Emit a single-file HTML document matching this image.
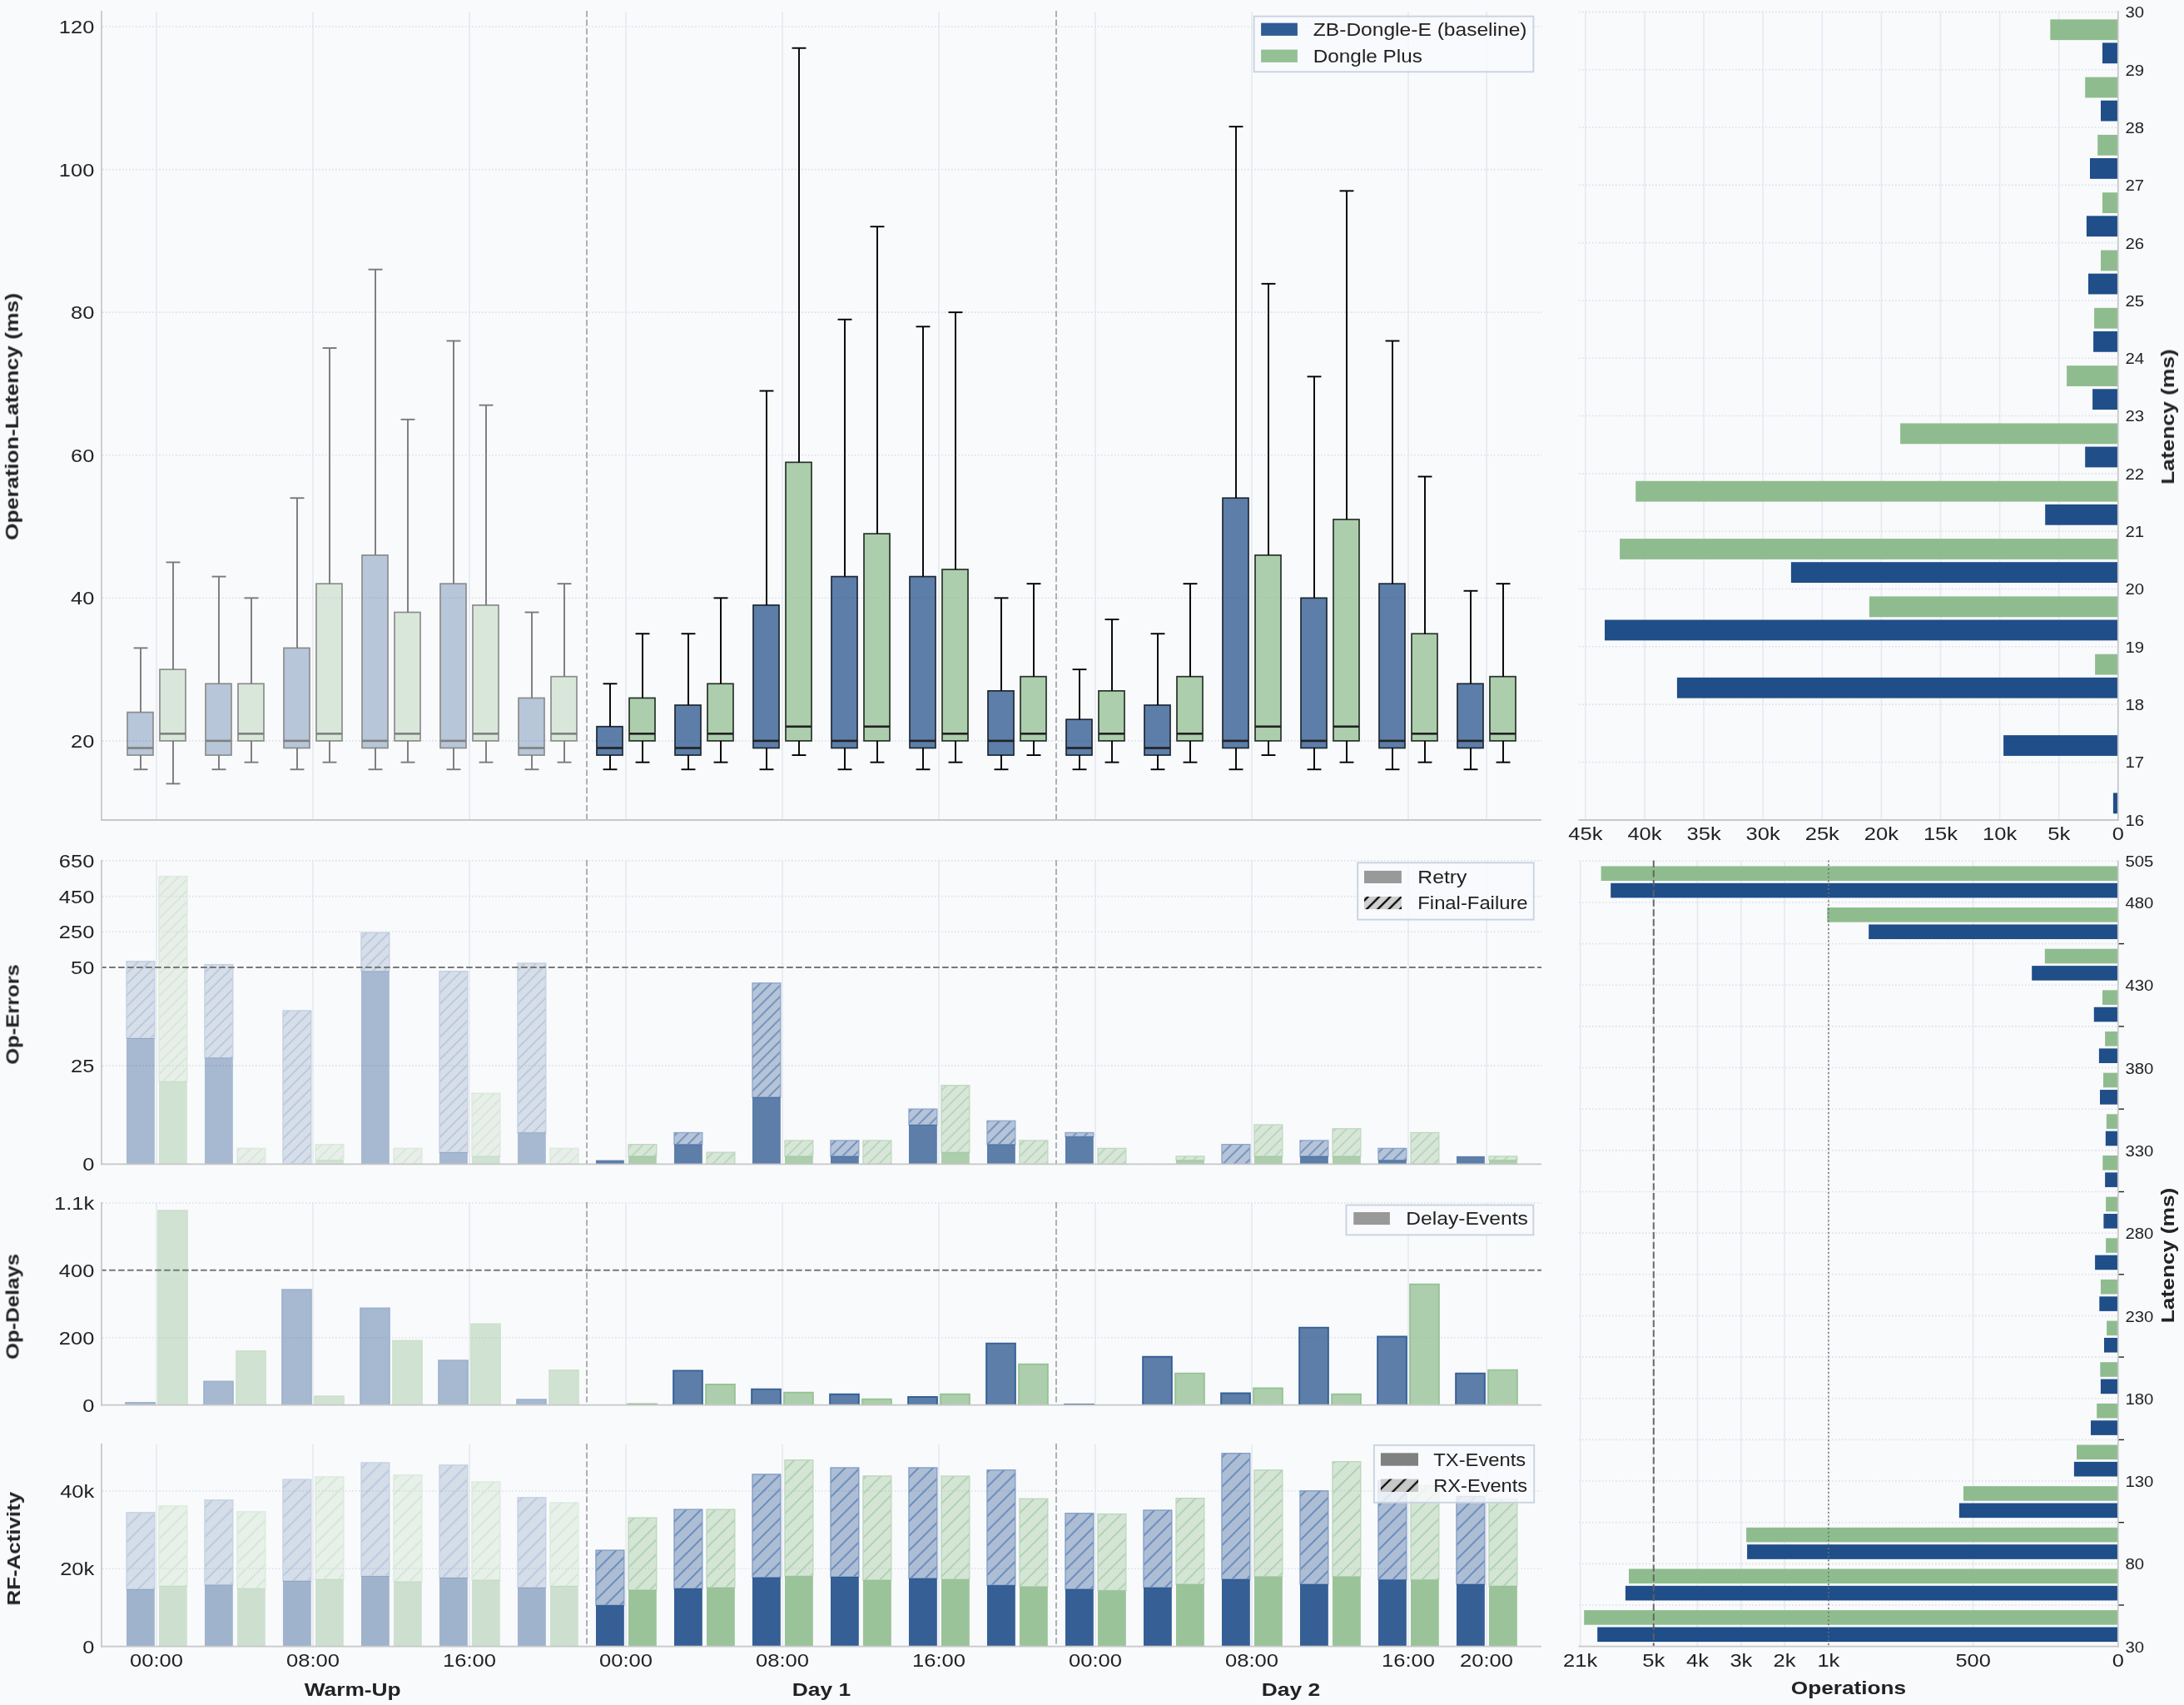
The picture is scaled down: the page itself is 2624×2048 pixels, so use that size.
<!DOCTYPE html>
<html><head><meta charset="utf-8"><title>Dongle latency dashboard</title><style>html,body{margin:0;padding:0;background:#f9fafc;}svg{display:block;font-family:"Liberation Sans",sans-serif;} text{will-change:transform;}</style></head><body>
<svg width="2624" height="2048" viewBox="0 0 2624 2048" font-family="Liberation Sans, sans-serif"><defs><pattern id="h_ffl_b" patternUnits="userSpaceOnUse" x="1.5" y="0" width="13.33" height="13.33"><path d="M0,13.33 L13.33,0 M-3,3 L3,-3 M10.33,16.33 L16.33,10.33" stroke="#6a8cbb" stroke-width="1.8" stroke-linecap="square"/></pattern><pattern id="h_ffl_g" patternUnits="userSpaceOnUse" x="1.5" y="0" width="13.33" height="13.33"><path d="M0,13.33 L13.33,0 M-3,3 L3,-3 M10.33,16.33 L16.33,10.33" stroke="#b5d4b5" stroke-width="1.8" stroke-linecap="square"/></pattern><pattern id="h_ffl_b_w" patternUnits="userSpaceOnUse" x="1.5" y="0" width="13.33" height="13.33"><path d="M0,13.33 L13.33,0 M-3,3 L3,-3 M10.33,16.33 L16.33,10.33" stroke="#b7c6da" stroke-width="1.8" stroke-linecap="square"/></pattern><pattern id="h_ffl_g_w" patternUnits="userSpaceOnUse" x="1.5" y="0" width="13.33" height="13.33"><path d="M0,13.33 L13.33,0 M-3,3 L3,-3 M10.33,16.33 L16.33,10.33" stroke="#d5e6d4" stroke-width="1.8" stroke-linecap="square"/></pattern><pattern id="h_rxl_b" patternUnits="userSpaceOnUse" x="15.5" y="0" width="17.6" height="17.6"><path d="M0,17.6 L17.6,0 M-3,3 L3,-3 M14.6,20.6 L20.6,14.6" stroke="#6286ba" stroke-width="1.8" stroke-linecap="square"/></pattern><pattern id="h_rxl_g" patternUnits="userSpaceOnUse" x="15.5" y="0" width="17.6" height="17.6"><path d="M0,17.6 L17.6,0 M-3,3 L3,-3 M14.6,20.6 L20.6,14.6" stroke="#acd0ac" stroke-width="1.8" stroke-linecap="square"/></pattern><pattern id="h_rxl_b_w" patternUnits="userSpaceOnUse" x="15.5" y="0" width="17.6" height="17.6"><path d="M0,17.6 L17.6,0 M-3,3 L3,-3 M14.6,20.6 L20.6,14.6" stroke="#b6c7de" stroke-width="1.8" stroke-linecap="square"/></pattern><pattern id="h_rxl_g_w" patternUnits="userSpaceOnUse" x="15.5" y="0" width="17.6" height="17.6"><path d="M0,17.6 L17.6,0 M-3,3 L3,-3 M14.6,20.6 L20.6,14.6" stroke="#d3e6d3" stroke-width="1.8" stroke-linecap="square"/></pattern><pattern id="h_leg" patternUnits="userSpaceOnUse" x="1.5" y="0" width="13.33" height="13.33"><path d="M0,13.33 L13.33,0 M-3,3 L3,-3 M10.33,16.33 L16.33,10.33" stroke="#000000" stroke-width="2.2" stroke-linecap="square"/></pattern><pattern id="h_leg2" patternUnits="userSpaceOnUse" x="15.5" y="0" width="17.6" height="17.6"><path d="M0,17.6 L17.6,0 M-3,3 L3,-3 M14.6,20.6 L20.6,14.6" stroke="#000000" stroke-width="2.2" stroke-linecap="square"/></pattern></defs><rect x="0" y="0" width="2624" height="2048" fill="#f9fafc"/>
<line x1="188" y1="14" x2="188" y2="985" stroke="#e6e9ef" stroke-width="1.6" stroke-linecap="butt"/>
<line x1="376" y1="14" x2="376" y2="985" stroke="#e6e9ef" stroke-width="1.6" stroke-linecap="butt"/>
<line x1="564" y1="14" x2="564" y2="985" stroke="#e6e9ef" stroke-width="1.6" stroke-linecap="butt"/>
<line x1="752" y1="14" x2="752" y2="985" stroke="#e6e9ef" stroke-width="1.6" stroke-linecap="butt"/>
<line x1="940" y1="14" x2="940" y2="985" stroke="#e6e9ef" stroke-width="1.6" stroke-linecap="butt"/>
<line x1="1128" y1="14" x2="1128" y2="985" stroke="#e6e9ef" stroke-width="1.6" stroke-linecap="butt"/>
<line x1="1316" y1="14" x2="1316" y2="985" stroke="#e6e9ef" stroke-width="1.6" stroke-linecap="butt"/>
<line x1="1504" y1="14" x2="1504" y2="985" stroke="#e6e9ef" stroke-width="1.6" stroke-linecap="butt"/>
<line x1="1692" y1="14" x2="1692" y2="985" stroke="#e6e9ef" stroke-width="1.6" stroke-linecap="butt"/>
<line x1="1786" y1="14" x2="1786" y2="985" stroke="#e6e9ef" stroke-width="1.6" stroke-linecap="butt"/>
<line x1="123" y1="889.9" x2="1852" y2="889.9" stroke="#dce0e9" stroke-width="1.6" stroke-dasharray="1.6 2.4" stroke-linecap="butt"/>
<line x1="123" y1="718.32" x2="1852" y2="718.32" stroke="#dce0e9" stroke-width="1.6" stroke-dasharray="1.6 2.4" stroke-linecap="butt"/>
<line x1="123" y1="546.74" x2="1852" y2="546.74" stroke="#dce0e9" stroke-width="1.6" stroke-dasharray="1.6 2.4" stroke-linecap="butt"/>
<line x1="123" y1="375.16" x2="1852" y2="375.16" stroke="#dce0e9" stroke-width="1.6" stroke-dasharray="1.6 2.4" stroke-linecap="butt"/>
<line x1="123" y1="203.58" x2="1852" y2="203.58" stroke="#dce0e9" stroke-width="1.6" stroke-dasharray="1.6 2.4" stroke-linecap="butt"/>
<line x1="123" y1="32" x2="1852" y2="32" stroke="#dce0e9" stroke-width="1.6" stroke-dasharray="1.6 2.4" stroke-linecap="butt"/>
<rect x="153" y="855.58" width="31" height="51.47" fill="#1f4e89" fill-opacity="0.3"/>
<rect x="153" y="855.58" width="31" height="51.47" fill="none" stroke="#8c8c8c" stroke-width="1.7"/>
<rect x="192" y="804.11" width="31" height="85.79" fill="#8fbc8f" fill-opacity="0.3"/>
<rect x="192" y="804.11" width="31" height="85.79" fill="none" stroke="#8c8c8c" stroke-width="1.7"/>
<rect x="247" y="821.27" width="31" height="85.79" fill="#1f4e89" fill-opacity="0.3"/>
<rect x="247" y="821.27" width="31" height="85.79" fill="none" stroke="#8c8c8c" stroke-width="1.7"/>
<rect x="286" y="821.27" width="31" height="68.63" fill="#8fbc8f" fill-opacity="0.3"/>
<rect x="286" y="821.27" width="31" height="68.63" fill="none" stroke="#8c8c8c" stroke-width="1.7"/>
<rect x="341" y="778.37" width="31" height="120.11" fill="#1f4e89" fill-opacity="0.3"/>
<rect x="341" y="778.37" width="31" height="120.11" fill="none" stroke="#8c8c8c" stroke-width="1.7"/>
<rect x="380" y="701.16" width="31" height="188.74" fill="#8fbc8f" fill-opacity="0.3"/>
<rect x="380" y="701.16" width="31" height="188.74" fill="none" stroke="#8c8c8c" stroke-width="1.7"/>
<rect x="435" y="666.85" width="31" height="231.63" fill="#1f4e89" fill-opacity="0.3"/>
<rect x="435" y="666.85" width="31" height="231.63" fill="none" stroke="#8c8c8c" stroke-width="1.7"/>
<rect x="474" y="735.48" width="31" height="154.42" fill="#8fbc8f" fill-opacity="0.3"/>
<rect x="474" y="735.48" width="31" height="154.42" fill="none" stroke="#8c8c8c" stroke-width="1.7"/>
<rect x="529" y="701.16" width="31" height="197.32" fill="#1f4e89" fill-opacity="0.3"/>
<rect x="529" y="701.16" width="31" height="197.32" fill="none" stroke="#8c8c8c" stroke-width="1.7"/>
<rect x="568" y="726.9" width="31" height="163" fill="#8fbc8f" fill-opacity="0.3"/>
<rect x="568" y="726.9" width="31" height="163" fill="none" stroke="#8c8c8c" stroke-width="1.7"/>
<rect x="623" y="838.43" width="31" height="68.63" fill="#1f4e89" fill-opacity="0.3"/>
<rect x="623" y="838.43" width="31" height="68.63" fill="none" stroke="#8c8c8c" stroke-width="1.7"/>
<rect x="662" y="812.69" width="31" height="77.21" fill="#8fbc8f" fill-opacity="0.3"/>
<rect x="662" y="812.69" width="31" height="77.21" fill="none" stroke="#8c8c8c" stroke-width="1.7"/>
<rect x="717" y="872.74" width="31" height="34.32" fill="#1f4e89" fill-opacity="0.72"/>
<rect x="717" y="872.74" width="31" height="34.32" fill="none" stroke="#1f2835" stroke-width="1.7"/>
<rect x="756" y="838.43" width="31" height="51.47" fill="#8fbc8f" fill-opacity="0.72"/>
<rect x="756" y="838.43" width="31" height="51.47" fill="none" stroke="#27332a" stroke-width="1.7"/>
<rect x="811" y="847" width="31" height="60.05" fill="#1f4e89" fill-opacity="0.72"/>
<rect x="811" y="847" width="31" height="60.05" fill="none" stroke="#1f2835" stroke-width="1.7"/>
<rect x="850" y="821.27" width="31" height="68.63" fill="#8fbc8f" fill-opacity="0.72"/>
<rect x="850" y="821.27" width="31" height="68.63" fill="none" stroke="#27332a" stroke-width="1.7"/>
<rect x="905" y="726.9" width="31" height="171.58" fill="#1f4e89" fill-opacity="0.72"/>
<rect x="905" y="726.9" width="31" height="171.58" fill="none" stroke="#1f2835" stroke-width="1.7"/>
<rect x="944" y="555.32" width="31" height="334.58" fill="#8fbc8f" fill-opacity="0.72"/>
<rect x="944" y="555.32" width="31" height="334.58" fill="none" stroke="#27332a" stroke-width="1.7"/>
<rect x="999" y="692.58" width="31" height="205.9" fill="#1f4e89" fill-opacity="0.72"/>
<rect x="999" y="692.58" width="31" height="205.9" fill="none" stroke="#1f2835" stroke-width="1.7"/>
<rect x="1038" y="641.11" width="31" height="248.79" fill="#8fbc8f" fill-opacity="0.72"/>
<rect x="1038" y="641.11" width="31" height="248.79" fill="none" stroke="#27332a" stroke-width="1.7"/>
<rect x="1093" y="692.58" width="31" height="205.9" fill="#1f4e89" fill-opacity="0.72"/>
<rect x="1093" y="692.58" width="31" height="205.9" fill="none" stroke="#1f2835" stroke-width="1.7"/>
<rect x="1132" y="684" width="31" height="205.9" fill="#8fbc8f" fill-opacity="0.72"/>
<rect x="1132" y="684" width="31" height="205.9" fill="none" stroke="#27332a" stroke-width="1.7"/>
<rect x="1187" y="829.85" width="31" height="77.21" fill="#1f4e89" fill-opacity="0.72"/>
<rect x="1187" y="829.85" width="31" height="77.21" fill="none" stroke="#1f2835" stroke-width="1.7"/>
<rect x="1226" y="812.69" width="31" height="77.21" fill="#8fbc8f" fill-opacity="0.72"/>
<rect x="1226" y="812.69" width="31" height="77.21" fill="none" stroke="#27332a" stroke-width="1.7"/>
<rect x="1281" y="864.16" width="31" height="42.89" fill="#1f4e89" fill-opacity="0.72"/>
<rect x="1281" y="864.16" width="31" height="42.89" fill="none" stroke="#1f2835" stroke-width="1.7"/>
<rect x="1320" y="829.85" width="31" height="60.05" fill="#8fbc8f" fill-opacity="0.72"/>
<rect x="1320" y="829.85" width="31" height="60.05" fill="none" stroke="#27332a" stroke-width="1.7"/>
<rect x="1375" y="847" width="31" height="60.05" fill="#1f4e89" fill-opacity="0.72"/>
<rect x="1375" y="847" width="31" height="60.05" fill="none" stroke="#1f2835" stroke-width="1.7"/>
<rect x="1414" y="812.69" width="31" height="77.21" fill="#8fbc8f" fill-opacity="0.72"/>
<rect x="1414" y="812.69" width="31" height="77.21" fill="none" stroke="#27332a" stroke-width="1.7"/>
<rect x="1469" y="598.21" width="31" height="300.26" fill="#1f4e89" fill-opacity="0.72"/>
<rect x="1469" y="598.21" width="31" height="300.26" fill="none" stroke="#1f2835" stroke-width="1.7"/>
<rect x="1508" y="666.85" width="31" height="223.05" fill="#8fbc8f" fill-opacity="0.72"/>
<rect x="1508" y="666.85" width="31" height="223.05" fill="none" stroke="#27332a" stroke-width="1.7"/>
<rect x="1563" y="718.32" width="31" height="180.16" fill="#1f4e89" fill-opacity="0.72"/>
<rect x="1563" y="718.32" width="31" height="180.16" fill="none" stroke="#1f2835" stroke-width="1.7"/>
<rect x="1602" y="623.95" width="31" height="265.95" fill="#8fbc8f" fill-opacity="0.72"/>
<rect x="1602" y="623.95" width="31" height="265.95" fill="none" stroke="#27332a" stroke-width="1.7"/>
<rect x="1657" y="701.16" width="31" height="197.32" fill="#1f4e89" fill-opacity="0.72"/>
<rect x="1657" y="701.16" width="31" height="197.32" fill="none" stroke="#1f2835" stroke-width="1.7"/>
<rect x="1696" y="761.21" width="31" height="128.69" fill="#8fbc8f" fill-opacity="0.72"/>
<rect x="1696" y="761.21" width="31" height="128.69" fill="none" stroke="#27332a" stroke-width="1.7"/>
<rect x="1751" y="821.27" width="31" height="77.21" fill="#1f4e89" fill-opacity="0.72"/>
<rect x="1751" y="821.27" width="31" height="77.21" fill="none" stroke="#1f2835" stroke-width="1.7"/>
<rect x="1790" y="812.69" width="31" height="77.21" fill="#8fbc8f" fill-opacity="0.72"/>
<rect x="1790" y="812.69" width="31" height="77.21" fill="none" stroke="#27332a" stroke-width="1.7"/>
<line x1="169" y1="907.06" x2="169" y2="924.22" stroke="#7a7a7a" stroke-width="1.9" stroke-linecap="butt"/>
<line x1="169" y1="855.58" x2="169" y2="778.37" stroke="#7a7a7a" stroke-width="1.9" stroke-linecap="butt"/>
<line x1="161.5" y1="924.22" x2="176.5" y2="924.22" stroke="#7a7a7a" stroke-width="1.9" stroke-linecap="square"/>
<line x1="161.5" y1="778.37" x2="176.5" y2="778.37" stroke="#7a7a7a" stroke-width="1.9" stroke-linecap="square"/>
<line x1="153" y1="898.48" x2="184" y2="898.48" stroke="#808080" stroke-width="2.6" stroke-linecap="butt"/>
<line x1="208" y1="889.9" x2="208" y2="941.37" stroke="#7a7a7a" stroke-width="1.9" stroke-linecap="butt"/>
<line x1="208" y1="804.11" x2="208" y2="675.42" stroke="#7a7a7a" stroke-width="1.9" stroke-linecap="butt"/>
<line x1="200.5" y1="941.37" x2="215.5" y2="941.37" stroke="#7a7a7a" stroke-width="1.9" stroke-linecap="square"/>
<line x1="200.5" y1="675.42" x2="215.5" y2="675.42" stroke="#7a7a7a" stroke-width="1.9" stroke-linecap="square"/>
<line x1="192" y1="881.32" x2="223" y2="881.32" stroke="#808080" stroke-width="2.6" stroke-linecap="butt"/>
<line x1="263" y1="907.06" x2="263" y2="924.22" stroke="#7a7a7a" stroke-width="1.9" stroke-linecap="butt"/>
<line x1="263" y1="821.27" x2="263" y2="692.58" stroke="#7a7a7a" stroke-width="1.9" stroke-linecap="butt"/>
<line x1="255.5" y1="924.22" x2="270.5" y2="924.22" stroke="#7a7a7a" stroke-width="1.9" stroke-linecap="square"/>
<line x1="255.5" y1="692.58" x2="270.5" y2="692.58" stroke="#7a7a7a" stroke-width="1.9" stroke-linecap="square"/>
<line x1="247" y1="889.9" x2="278" y2="889.9" stroke="#808080" stroke-width="2.6" stroke-linecap="butt"/>
<line x1="302" y1="889.9" x2="302" y2="915.64" stroke="#7a7a7a" stroke-width="1.9" stroke-linecap="butt"/>
<line x1="302" y1="821.27" x2="302" y2="718.32" stroke="#7a7a7a" stroke-width="1.9" stroke-linecap="butt"/>
<line x1="294.5" y1="915.64" x2="309.5" y2="915.64" stroke="#7a7a7a" stroke-width="1.9" stroke-linecap="square"/>
<line x1="294.5" y1="718.32" x2="309.5" y2="718.32" stroke="#7a7a7a" stroke-width="1.9" stroke-linecap="square"/>
<line x1="286" y1="881.32" x2="317" y2="881.32" stroke="#808080" stroke-width="2.6" stroke-linecap="butt"/>
<line x1="357" y1="898.48" x2="357" y2="924.22" stroke="#7a7a7a" stroke-width="1.9" stroke-linecap="butt"/>
<line x1="357" y1="778.37" x2="357" y2="598.21" stroke="#7a7a7a" stroke-width="1.9" stroke-linecap="butt"/>
<line x1="349.5" y1="924.22" x2="364.5" y2="924.22" stroke="#7a7a7a" stroke-width="1.9" stroke-linecap="square"/>
<line x1="349.5" y1="598.21" x2="364.5" y2="598.21" stroke="#7a7a7a" stroke-width="1.9" stroke-linecap="square"/>
<line x1="341" y1="889.9" x2="372" y2="889.9" stroke="#808080" stroke-width="2.6" stroke-linecap="butt"/>
<line x1="396" y1="889.9" x2="396" y2="915.64" stroke="#7a7a7a" stroke-width="1.9" stroke-linecap="butt"/>
<line x1="396" y1="701.16" x2="396" y2="418.05" stroke="#7a7a7a" stroke-width="1.9" stroke-linecap="butt"/>
<line x1="388.5" y1="915.64" x2="403.5" y2="915.64" stroke="#7a7a7a" stroke-width="1.9" stroke-linecap="square"/>
<line x1="388.5" y1="418.05" x2="403.5" y2="418.05" stroke="#7a7a7a" stroke-width="1.9" stroke-linecap="square"/>
<line x1="380" y1="881.32" x2="411" y2="881.32" stroke="#808080" stroke-width="2.6" stroke-linecap="butt"/>
<line x1="451" y1="898.48" x2="451" y2="924.22" stroke="#7a7a7a" stroke-width="1.9" stroke-linecap="butt"/>
<line x1="451" y1="666.85" x2="451" y2="323.69" stroke="#7a7a7a" stroke-width="1.9" stroke-linecap="butt"/>
<line x1="443.5" y1="924.22" x2="458.5" y2="924.22" stroke="#7a7a7a" stroke-width="1.9" stroke-linecap="square"/>
<line x1="443.5" y1="323.69" x2="458.5" y2="323.69" stroke="#7a7a7a" stroke-width="1.9" stroke-linecap="square"/>
<line x1="435" y1="889.9" x2="466" y2="889.9" stroke="#808080" stroke-width="2.6" stroke-linecap="butt"/>
<line x1="490" y1="889.9" x2="490" y2="915.64" stroke="#7a7a7a" stroke-width="1.9" stroke-linecap="butt"/>
<line x1="490" y1="735.48" x2="490" y2="503.84" stroke="#7a7a7a" stroke-width="1.9" stroke-linecap="butt"/>
<line x1="482.5" y1="915.64" x2="497.5" y2="915.64" stroke="#7a7a7a" stroke-width="1.9" stroke-linecap="square"/>
<line x1="482.5" y1="503.84" x2="497.5" y2="503.84" stroke="#7a7a7a" stroke-width="1.9" stroke-linecap="square"/>
<line x1="474" y1="881.32" x2="505" y2="881.32" stroke="#808080" stroke-width="2.6" stroke-linecap="butt"/>
<line x1="545" y1="898.48" x2="545" y2="924.22" stroke="#7a7a7a" stroke-width="1.9" stroke-linecap="butt"/>
<line x1="545" y1="701.16" x2="545" y2="409.48" stroke="#7a7a7a" stroke-width="1.9" stroke-linecap="butt"/>
<line x1="537.5" y1="924.22" x2="552.5" y2="924.22" stroke="#7a7a7a" stroke-width="1.9" stroke-linecap="square"/>
<line x1="537.5" y1="409.48" x2="552.5" y2="409.48" stroke="#7a7a7a" stroke-width="1.9" stroke-linecap="square"/>
<line x1="529" y1="889.9" x2="560" y2="889.9" stroke="#808080" stroke-width="2.6" stroke-linecap="butt"/>
<line x1="584" y1="889.9" x2="584" y2="915.64" stroke="#7a7a7a" stroke-width="1.9" stroke-linecap="butt"/>
<line x1="584" y1="726.9" x2="584" y2="486.69" stroke="#7a7a7a" stroke-width="1.9" stroke-linecap="butt"/>
<line x1="576.5" y1="915.64" x2="591.5" y2="915.64" stroke="#7a7a7a" stroke-width="1.9" stroke-linecap="square"/>
<line x1="576.5" y1="486.69" x2="591.5" y2="486.69" stroke="#7a7a7a" stroke-width="1.9" stroke-linecap="square"/>
<line x1="568" y1="881.32" x2="599" y2="881.32" stroke="#808080" stroke-width="2.6" stroke-linecap="butt"/>
<line x1="639" y1="907.06" x2="639" y2="924.22" stroke="#7a7a7a" stroke-width="1.9" stroke-linecap="butt"/>
<line x1="639" y1="838.43" x2="639" y2="735.48" stroke="#7a7a7a" stroke-width="1.9" stroke-linecap="butt"/>
<line x1="631.5" y1="924.22" x2="646.5" y2="924.22" stroke="#7a7a7a" stroke-width="1.9" stroke-linecap="square"/>
<line x1="631.5" y1="735.48" x2="646.5" y2="735.48" stroke="#7a7a7a" stroke-width="1.9" stroke-linecap="square"/>
<line x1="623" y1="898.48" x2="654" y2="898.48" stroke="#808080" stroke-width="2.6" stroke-linecap="butt"/>
<line x1="678" y1="889.9" x2="678" y2="915.64" stroke="#7a7a7a" stroke-width="1.9" stroke-linecap="butt"/>
<line x1="678" y1="812.69" x2="678" y2="701.16" stroke="#7a7a7a" stroke-width="1.9" stroke-linecap="butt"/>
<line x1="670.5" y1="915.64" x2="685.5" y2="915.64" stroke="#7a7a7a" stroke-width="1.9" stroke-linecap="square"/>
<line x1="670.5" y1="701.16" x2="685.5" y2="701.16" stroke="#7a7a7a" stroke-width="1.9" stroke-linecap="square"/>
<line x1="662" y1="881.32" x2="693" y2="881.32" stroke="#808080" stroke-width="2.6" stroke-linecap="butt"/>
<line x1="733" y1="907.06" x2="733" y2="924.22" stroke="#000000" stroke-width="1.9" stroke-linecap="butt"/>
<line x1="733" y1="872.74" x2="733" y2="821.27" stroke="#000000" stroke-width="1.9" stroke-linecap="butt"/>
<line x1="725.5" y1="924.22" x2="740.5" y2="924.22" stroke="#000000" stroke-width="1.9" stroke-linecap="square"/>
<line x1="725.5" y1="821.27" x2="740.5" y2="821.27" stroke="#000000" stroke-width="1.9" stroke-linecap="square"/>
<line x1="717" y1="898.48" x2="748" y2="898.48" stroke="#222222" stroke-width="2.6" stroke-linecap="butt"/>
<line x1="772" y1="889.9" x2="772" y2="915.64" stroke="#000000" stroke-width="1.9" stroke-linecap="butt"/>
<line x1="772" y1="838.43" x2="772" y2="761.21" stroke="#000000" stroke-width="1.9" stroke-linecap="butt"/>
<line x1="764.5" y1="915.64" x2="779.5" y2="915.64" stroke="#000000" stroke-width="1.9" stroke-linecap="square"/>
<line x1="764.5" y1="761.21" x2="779.5" y2="761.21" stroke="#000000" stroke-width="1.9" stroke-linecap="square"/>
<line x1="756" y1="881.32" x2="787" y2="881.32" stroke="#222222" stroke-width="2.6" stroke-linecap="butt"/>
<line x1="827" y1="907.06" x2="827" y2="924.22" stroke="#000000" stroke-width="1.9" stroke-linecap="butt"/>
<line x1="827" y1="847" x2="827" y2="761.21" stroke="#000000" stroke-width="1.9" stroke-linecap="butt"/>
<line x1="819.5" y1="924.22" x2="834.5" y2="924.22" stroke="#000000" stroke-width="1.9" stroke-linecap="square"/>
<line x1="819.5" y1="761.21" x2="834.5" y2="761.21" stroke="#000000" stroke-width="1.9" stroke-linecap="square"/>
<line x1="811" y1="898.48" x2="842" y2="898.48" stroke="#222222" stroke-width="2.6" stroke-linecap="butt"/>
<line x1="866" y1="889.9" x2="866" y2="915.64" stroke="#000000" stroke-width="1.9" stroke-linecap="butt"/>
<line x1="866" y1="821.27" x2="866" y2="718.32" stroke="#000000" stroke-width="1.9" stroke-linecap="butt"/>
<line x1="858.5" y1="915.64" x2="873.5" y2="915.64" stroke="#000000" stroke-width="1.9" stroke-linecap="square"/>
<line x1="858.5" y1="718.32" x2="873.5" y2="718.32" stroke="#000000" stroke-width="1.9" stroke-linecap="square"/>
<line x1="850" y1="881.32" x2="881" y2="881.32" stroke="#222222" stroke-width="2.6" stroke-linecap="butt"/>
<line x1="921" y1="898.48" x2="921" y2="924.22" stroke="#000000" stroke-width="1.9" stroke-linecap="butt"/>
<line x1="921" y1="726.9" x2="921" y2="469.53" stroke="#000000" stroke-width="1.9" stroke-linecap="butt"/>
<line x1="913.5" y1="924.22" x2="928.5" y2="924.22" stroke="#000000" stroke-width="1.9" stroke-linecap="square"/>
<line x1="913.5" y1="469.53" x2="928.5" y2="469.53" stroke="#000000" stroke-width="1.9" stroke-linecap="square"/>
<line x1="905" y1="889.9" x2="936" y2="889.9" stroke="#222222" stroke-width="2.6" stroke-linecap="butt"/>
<line x1="960" y1="889.9" x2="960" y2="907.06" stroke="#000000" stroke-width="1.9" stroke-linecap="butt"/>
<line x1="960" y1="555.32" x2="960" y2="57.74" stroke="#000000" stroke-width="1.9" stroke-linecap="butt"/>
<line x1="952.5" y1="907.06" x2="967.5" y2="907.06" stroke="#000000" stroke-width="1.9" stroke-linecap="square"/>
<line x1="952.5" y1="57.74" x2="967.5" y2="57.74" stroke="#000000" stroke-width="1.9" stroke-linecap="square"/>
<line x1="944" y1="872.74" x2="975" y2="872.74" stroke="#222222" stroke-width="2.6" stroke-linecap="butt"/>
<line x1="1015" y1="898.48" x2="1015" y2="924.22" stroke="#000000" stroke-width="1.9" stroke-linecap="butt"/>
<line x1="1015" y1="692.58" x2="1015" y2="383.74" stroke="#000000" stroke-width="1.9" stroke-linecap="butt"/>
<line x1="1007.5" y1="924.22" x2="1022.5" y2="924.22" stroke="#000000" stroke-width="1.9" stroke-linecap="square"/>
<line x1="1007.5" y1="383.74" x2="1022.5" y2="383.74" stroke="#000000" stroke-width="1.9" stroke-linecap="square"/>
<line x1="999" y1="889.9" x2="1030" y2="889.9" stroke="#222222" stroke-width="2.6" stroke-linecap="butt"/>
<line x1="1054" y1="889.9" x2="1054" y2="915.64" stroke="#000000" stroke-width="1.9" stroke-linecap="butt"/>
<line x1="1054" y1="641.11" x2="1054" y2="272.21" stroke="#000000" stroke-width="1.9" stroke-linecap="butt"/>
<line x1="1046.5" y1="915.64" x2="1061.5" y2="915.64" stroke="#000000" stroke-width="1.9" stroke-linecap="square"/>
<line x1="1046.5" y1="272.21" x2="1061.5" y2="272.21" stroke="#000000" stroke-width="1.9" stroke-linecap="square"/>
<line x1="1038" y1="872.74" x2="1069" y2="872.74" stroke="#222222" stroke-width="2.6" stroke-linecap="butt"/>
<line x1="1109" y1="898.48" x2="1109" y2="924.22" stroke="#000000" stroke-width="1.9" stroke-linecap="butt"/>
<line x1="1109" y1="692.58" x2="1109" y2="392.32" stroke="#000000" stroke-width="1.9" stroke-linecap="butt"/>
<line x1="1101.5" y1="924.22" x2="1116.5" y2="924.22" stroke="#000000" stroke-width="1.9" stroke-linecap="square"/>
<line x1="1101.5" y1="392.32" x2="1116.5" y2="392.32" stroke="#000000" stroke-width="1.9" stroke-linecap="square"/>
<line x1="1093" y1="889.9" x2="1124" y2="889.9" stroke="#222222" stroke-width="2.6" stroke-linecap="butt"/>
<line x1="1148" y1="889.9" x2="1148" y2="915.64" stroke="#000000" stroke-width="1.9" stroke-linecap="butt"/>
<line x1="1148" y1="684" x2="1148" y2="375.16" stroke="#000000" stroke-width="1.9" stroke-linecap="butt"/>
<line x1="1140.5" y1="915.64" x2="1155.5" y2="915.64" stroke="#000000" stroke-width="1.9" stroke-linecap="square"/>
<line x1="1140.5" y1="375.16" x2="1155.5" y2="375.16" stroke="#000000" stroke-width="1.9" stroke-linecap="square"/>
<line x1="1132" y1="881.32" x2="1163" y2="881.32" stroke="#222222" stroke-width="2.6" stroke-linecap="butt"/>
<line x1="1203" y1="907.06" x2="1203" y2="924.22" stroke="#000000" stroke-width="1.9" stroke-linecap="butt"/>
<line x1="1203" y1="829.85" x2="1203" y2="718.32" stroke="#000000" stroke-width="1.9" stroke-linecap="butt"/>
<line x1="1195.5" y1="924.22" x2="1210.5" y2="924.22" stroke="#000000" stroke-width="1.9" stroke-linecap="square"/>
<line x1="1195.5" y1="718.32" x2="1210.5" y2="718.32" stroke="#000000" stroke-width="1.9" stroke-linecap="square"/>
<line x1="1187" y1="889.9" x2="1218" y2="889.9" stroke="#222222" stroke-width="2.6" stroke-linecap="butt"/>
<line x1="1242" y1="889.9" x2="1242" y2="907.06" stroke="#000000" stroke-width="1.9" stroke-linecap="butt"/>
<line x1="1242" y1="812.69" x2="1242" y2="701.16" stroke="#000000" stroke-width="1.9" stroke-linecap="butt"/>
<line x1="1234.5" y1="907.06" x2="1249.5" y2="907.06" stroke="#000000" stroke-width="1.9" stroke-linecap="square"/>
<line x1="1234.5" y1="701.16" x2="1249.5" y2="701.16" stroke="#000000" stroke-width="1.9" stroke-linecap="square"/>
<line x1="1226" y1="881.32" x2="1257" y2="881.32" stroke="#222222" stroke-width="2.6" stroke-linecap="butt"/>
<line x1="1297" y1="907.06" x2="1297" y2="924.22" stroke="#000000" stroke-width="1.9" stroke-linecap="butt"/>
<line x1="1297" y1="864.16" x2="1297" y2="804.11" stroke="#000000" stroke-width="1.9" stroke-linecap="butt"/>
<line x1="1289.5" y1="924.22" x2="1304.5" y2="924.22" stroke="#000000" stroke-width="1.9" stroke-linecap="square"/>
<line x1="1289.5" y1="804.11" x2="1304.5" y2="804.11" stroke="#000000" stroke-width="1.9" stroke-linecap="square"/>
<line x1="1281" y1="898.48" x2="1312" y2="898.48" stroke="#222222" stroke-width="2.6" stroke-linecap="butt"/>
<line x1="1336" y1="889.9" x2="1336" y2="915.64" stroke="#000000" stroke-width="1.9" stroke-linecap="butt"/>
<line x1="1336" y1="829.85" x2="1336" y2="744.06" stroke="#000000" stroke-width="1.9" stroke-linecap="butt"/>
<line x1="1328.5" y1="915.64" x2="1343.5" y2="915.64" stroke="#000000" stroke-width="1.9" stroke-linecap="square"/>
<line x1="1328.5" y1="744.06" x2="1343.5" y2="744.06" stroke="#000000" stroke-width="1.9" stroke-linecap="square"/>
<line x1="1320" y1="881.32" x2="1351" y2="881.32" stroke="#222222" stroke-width="2.6" stroke-linecap="butt"/>
<line x1="1391" y1="907.06" x2="1391" y2="924.22" stroke="#000000" stroke-width="1.9" stroke-linecap="butt"/>
<line x1="1391" y1="847" x2="1391" y2="761.21" stroke="#000000" stroke-width="1.9" stroke-linecap="butt"/>
<line x1="1383.5" y1="924.22" x2="1398.5" y2="924.22" stroke="#000000" stroke-width="1.9" stroke-linecap="square"/>
<line x1="1383.5" y1="761.21" x2="1398.5" y2="761.21" stroke="#000000" stroke-width="1.9" stroke-linecap="square"/>
<line x1="1375" y1="898.48" x2="1406" y2="898.48" stroke="#222222" stroke-width="2.6" stroke-linecap="butt"/>
<line x1="1430" y1="889.9" x2="1430" y2="915.64" stroke="#000000" stroke-width="1.9" stroke-linecap="butt"/>
<line x1="1430" y1="812.69" x2="1430" y2="701.16" stroke="#000000" stroke-width="1.9" stroke-linecap="butt"/>
<line x1="1422.5" y1="915.64" x2="1437.5" y2="915.64" stroke="#000000" stroke-width="1.9" stroke-linecap="square"/>
<line x1="1422.5" y1="701.16" x2="1437.5" y2="701.16" stroke="#000000" stroke-width="1.9" stroke-linecap="square"/>
<line x1="1414" y1="881.32" x2="1445" y2="881.32" stroke="#222222" stroke-width="2.6" stroke-linecap="butt"/>
<line x1="1485" y1="898.48" x2="1485" y2="924.22" stroke="#000000" stroke-width="1.9" stroke-linecap="butt"/>
<line x1="1485" y1="598.21" x2="1485" y2="152.11" stroke="#000000" stroke-width="1.9" stroke-linecap="butt"/>
<line x1="1477.5" y1="924.22" x2="1492.5" y2="924.22" stroke="#000000" stroke-width="1.9" stroke-linecap="square"/>
<line x1="1477.5" y1="152.11" x2="1492.5" y2="152.11" stroke="#000000" stroke-width="1.9" stroke-linecap="square"/>
<line x1="1469" y1="889.9" x2="1500" y2="889.9" stroke="#222222" stroke-width="2.6" stroke-linecap="butt"/>
<line x1="1524" y1="889.9" x2="1524" y2="907.06" stroke="#000000" stroke-width="1.9" stroke-linecap="butt"/>
<line x1="1524" y1="666.85" x2="1524" y2="340.84" stroke="#000000" stroke-width="1.9" stroke-linecap="butt"/>
<line x1="1516.5" y1="907.06" x2="1531.5" y2="907.06" stroke="#000000" stroke-width="1.9" stroke-linecap="square"/>
<line x1="1516.5" y1="340.84" x2="1531.5" y2="340.84" stroke="#000000" stroke-width="1.9" stroke-linecap="square"/>
<line x1="1508" y1="872.74" x2="1539" y2="872.74" stroke="#222222" stroke-width="2.6" stroke-linecap="butt"/>
<line x1="1579" y1="898.48" x2="1579" y2="924.22" stroke="#000000" stroke-width="1.9" stroke-linecap="butt"/>
<line x1="1579" y1="718.32" x2="1579" y2="452.37" stroke="#000000" stroke-width="1.9" stroke-linecap="butt"/>
<line x1="1571.5" y1="924.22" x2="1586.5" y2="924.22" stroke="#000000" stroke-width="1.9" stroke-linecap="square"/>
<line x1="1571.5" y1="452.37" x2="1586.5" y2="452.37" stroke="#000000" stroke-width="1.9" stroke-linecap="square"/>
<line x1="1563" y1="889.9" x2="1594" y2="889.9" stroke="#222222" stroke-width="2.6" stroke-linecap="butt"/>
<line x1="1618" y1="889.9" x2="1618" y2="915.64" stroke="#000000" stroke-width="1.9" stroke-linecap="butt"/>
<line x1="1618" y1="623.95" x2="1618" y2="229.32" stroke="#000000" stroke-width="1.9" stroke-linecap="butt"/>
<line x1="1610.5" y1="915.64" x2="1625.5" y2="915.64" stroke="#000000" stroke-width="1.9" stroke-linecap="square"/>
<line x1="1610.5" y1="229.32" x2="1625.5" y2="229.32" stroke="#000000" stroke-width="1.9" stroke-linecap="square"/>
<line x1="1602" y1="872.74" x2="1633" y2="872.74" stroke="#222222" stroke-width="2.6" stroke-linecap="butt"/>
<line x1="1673" y1="898.48" x2="1673" y2="924.22" stroke="#000000" stroke-width="1.9" stroke-linecap="butt"/>
<line x1="1673" y1="701.16" x2="1673" y2="409.48" stroke="#000000" stroke-width="1.9" stroke-linecap="butt"/>
<line x1="1665.5" y1="924.22" x2="1680.5" y2="924.22" stroke="#000000" stroke-width="1.9" stroke-linecap="square"/>
<line x1="1665.5" y1="409.48" x2="1680.5" y2="409.48" stroke="#000000" stroke-width="1.9" stroke-linecap="square"/>
<line x1="1657" y1="889.9" x2="1688" y2="889.9" stroke="#222222" stroke-width="2.6" stroke-linecap="butt"/>
<line x1="1712" y1="889.9" x2="1712" y2="915.64" stroke="#000000" stroke-width="1.9" stroke-linecap="butt"/>
<line x1="1712" y1="761.21" x2="1712" y2="572.48" stroke="#000000" stroke-width="1.9" stroke-linecap="butt"/>
<line x1="1704.5" y1="915.64" x2="1719.5" y2="915.64" stroke="#000000" stroke-width="1.9" stroke-linecap="square"/>
<line x1="1704.5" y1="572.48" x2="1719.5" y2="572.48" stroke="#000000" stroke-width="1.9" stroke-linecap="square"/>
<line x1="1696" y1="881.32" x2="1727" y2="881.32" stroke="#222222" stroke-width="2.6" stroke-linecap="butt"/>
<line x1="1767" y1="898.48" x2="1767" y2="924.22" stroke="#000000" stroke-width="1.9" stroke-linecap="butt"/>
<line x1="1767" y1="821.27" x2="1767" y2="709.74" stroke="#000000" stroke-width="1.9" stroke-linecap="butt"/>
<line x1="1759.5" y1="924.22" x2="1774.5" y2="924.22" stroke="#000000" stroke-width="1.9" stroke-linecap="square"/>
<line x1="1759.5" y1="709.74" x2="1774.5" y2="709.74" stroke="#000000" stroke-width="1.9" stroke-linecap="square"/>
<line x1="1751" y1="889.9" x2="1782" y2="889.9" stroke="#222222" stroke-width="2.6" stroke-linecap="butt"/>
<line x1="1806" y1="889.9" x2="1806" y2="915.64" stroke="#000000" stroke-width="1.9" stroke-linecap="butt"/>
<line x1="1806" y1="812.69" x2="1806" y2="701.16" stroke="#000000" stroke-width="1.9" stroke-linecap="butt"/>
<line x1="1798.5" y1="915.64" x2="1813.5" y2="915.64" stroke="#000000" stroke-width="1.9" stroke-linecap="square"/>
<line x1="1798.5" y1="701.16" x2="1813.5" y2="701.16" stroke="#000000" stroke-width="1.9" stroke-linecap="square"/>
<line x1="1790" y1="881.32" x2="1821" y2="881.32" stroke="#222222" stroke-width="2.6" stroke-linecap="butt"/>
<line x1="705" y1="13" x2="705" y2="985" stroke="#b0b0b0" stroke-width="2" stroke-dasharray="7.4 3.2" stroke-linecap="butt"/>
<line x1="1269" y1="13" x2="1269" y2="985" stroke="#b0b0b0" stroke-width="2" stroke-dasharray="7.4 3.2" stroke-linecap="butt"/>
<line x1="122" y1="13" x2="122" y2="985.9" stroke="#c8c8c8" stroke-width="1.8" stroke-linecap="butt"/>
<line x1="121.1" y1="985" x2="1852" y2="985" stroke="#c8c8c8" stroke-width="1.8" stroke-linecap="butt"/>
<text x="113.3" y="897.9" font-size="22.93" text-anchor="end" textLength="28.27" lengthAdjust="spacingAndGlyphs" fill="#222222">20</text>
<text x="113.3" y="726.32" font-size="22.93" text-anchor="end" textLength="28.27" lengthAdjust="spacingAndGlyphs" fill="#222222">40</text>
<text x="113.3" y="554.74" font-size="22.93" text-anchor="end" textLength="28.27" lengthAdjust="spacingAndGlyphs" fill="#222222">60</text>
<text x="113.3" y="383.16" font-size="22.93" text-anchor="end" textLength="28.27" lengthAdjust="spacingAndGlyphs" fill="#222222">80</text>
<text x="113.3" y="211.58" font-size="22.93" text-anchor="end" textLength="42.41" lengthAdjust="spacingAndGlyphs" fill="#222222">100</text>
<text x="113.3" y="40" font-size="22.93" text-anchor="end" textLength="42.41" lengthAdjust="spacingAndGlyphs" fill="#222222">120</text>
<text transform="translate(21.8 500.5) rotate(-90)" x="0" y="0" font-size="22.61" font-weight="bold" text-anchor="middle" textLength="297.11" lengthAdjust="spacingAndGlyphs" fill="#222222">Operation-Latency (ms)</text>
<rect x="1506.6" y="19.6" width="335.8" height="66.7" fill="#f9fafc" stroke="#c9d3e1" stroke-width="1.9" fill-opacity="0.8"/>
<rect x="1515.1" y="27.6" width="43.8" height="15.3" fill="#305c95"/>
<rect x="1515.1" y="59.6" width="43.8" height="15.3" fill="#95c095"/>
<text x="1577.8" y="42.7" font-size="22.93" text-anchor="start" textLength="256.75" lengthAdjust="spacingAndGlyphs" fill="#222222">ZB-Dongle-E (baseline)</text>
<text x="1577.8" y="74.9" font-size="22.93" text-anchor="start" textLength="131.03" lengthAdjust="spacingAndGlyphs" fill="#222222">Dongle Plus</text>
<line x1="188" y1="1034" x2="188" y2="1398.3" stroke="#e6e9ef" stroke-width="1.6" stroke-linecap="butt"/>
<line x1="376" y1="1034" x2="376" y2="1398.3" stroke="#e6e9ef" stroke-width="1.6" stroke-linecap="butt"/>
<line x1="564" y1="1034" x2="564" y2="1398.3" stroke="#e6e9ef" stroke-width="1.6" stroke-linecap="butt"/>
<line x1="752" y1="1034" x2="752" y2="1398.3" stroke="#e6e9ef" stroke-width="1.6" stroke-linecap="butt"/>
<line x1="940" y1="1034" x2="940" y2="1398.3" stroke="#e6e9ef" stroke-width="1.6" stroke-linecap="butt"/>
<line x1="1128" y1="1034" x2="1128" y2="1398.3" stroke="#e6e9ef" stroke-width="1.6" stroke-linecap="butt"/>
<line x1="1316" y1="1034" x2="1316" y2="1398.3" stroke="#e6e9ef" stroke-width="1.6" stroke-linecap="butt"/>
<line x1="1504" y1="1034" x2="1504" y2="1398.3" stroke="#e6e9ef" stroke-width="1.6" stroke-linecap="butt"/>
<line x1="1692" y1="1034" x2="1692" y2="1398.3" stroke="#e6e9ef" stroke-width="1.6" stroke-linecap="butt"/>
<line x1="1786" y1="1034" x2="1786" y2="1398.3" stroke="#e6e9ef" stroke-width="1.6" stroke-linecap="butt"/>
<line x1="123" y1="1398.3" x2="1852" y2="1398.3" stroke="#dce0e9" stroke-width="1.6" stroke-dasharray="1.6 2.4" stroke-linecap="butt"/>
<line x1="123" y1="1280.11" x2="1852" y2="1280.11" stroke="#dce0e9" stroke-width="1.6" stroke-dasharray="1.6 2.4" stroke-linecap="butt"/>
<line x1="123" y1="1119.24" x2="1852" y2="1119.24" stroke="#dce0e9" stroke-width="1.6" stroke-dasharray="1.6 2.4" stroke-linecap="butt"/>
<line x1="123" y1="1076.58" x2="1852" y2="1076.58" stroke="#dce0e9" stroke-width="1.6" stroke-dasharray="1.6 2.4" stroke-linecap="butt"/>
<line x1="123" y1="1033.92" x2="1852" y2="1033.92" stroke="#dce0e9" stroke-width="1.6" stroke-dasharray="1.6 2.4" stroke-linecap="butt"/>
<rect x="151.98" y="1154.7" width="33.84" height="92.32" fill="#1f4e89" fill-opacity="0.16"/>
<rect x="151.98" y="1154.7" width="33.84" height="92.32" fill="url(#h_ffl_b_w)"/>
<rect x="151.98" y="1154.7" width="33.84" height="92.32" fill="none" stroke="#c3cfe0" stroke-width="1.3"/>
<rect x="151.98" y="1247.02" width="33.84" height="151.28" fill="#1f4e89" fill-opacity="0.38"/>
<rect x="190.98" y="1052.8" width="33.84" height="246.22" fill="#8fbc8f" fill-opacity="0.16"/>
<rect x="190.98" y="1052.8" width="33.84" height="246.22" fill="url(#h_ffl_g_w)"/>
<rect x="190.98" y="1052.8" width="33.84" height="246.22" fill="none" stroke="#dae9d9" stroke-width="1.3"/>
<rect x="190.98" y="1299.02" width="33.84" height="99.28" fill="#8fbc8f" fill-opacity="0.38"/>
<rect x="245.98" y="1158.6" width="33.84" height="112.05" fill="#1f4e89" fill-opacity="0.16"/>
<rect x="245.98" y="1158.6" width="33.84" height="112.05" fill="url(#h_ffl_b_w)"/>
<rect x="245.98" y="1158.6" width="33.84" height="112.05" fill="none" stroke="#c3cfe0" stroke-width="1.3"/>
<rect x="245.98" y="1270.65" width="33.84" height="127.65" fill="#1f4e89" fill-opacity="0.38"/>
<rect x="284.98" y="1379.39" width="33.84" height="18.91" fill="#8fbc8f" fill-opacity="0.16"/>
<rect x="284.98" y="1379.39" width="33.84" height="18.91" fill="url(#h_ffl_g_w)"/>
<rect x="284.98" y="1379.39" width="33.84" height="18.91" fill="none" stroke="#dae9d9" stroke-width="1.3"/>
<rect x="339.98" y="1213.92" width="33.84" height="184.38" fill="#1f4e89" fill-opacity="0.16"/>
<rect x="339.98" y="1213.92" width="33.84" height="184.38" fill="url(#h_ffl_b_w)"/>
<rect x="339.98" y="1213.92" width="33.84" height="184.38" fill="none" stroke="#c3cfe0" stroke-width="1.3"/>
<rect x="378.98" y="1374.66" width="33.84" height="18.91" fill="#8fbc8f" fill-opacity="0.16"/>
<rect x="378.98" y="1374.66" width="33.84" height="18.91" fill="url(#h_ffl_g_w)"/>
<rect x="378.98" y="1374.66" width="33.84" height="18.91" fill="none" stroke="#dae9d9" stroke-width="1.3"/>
<rect x="378.98" y="1393.57" width="33.84" height="4.73" fill="#8fbc8f" fill-opacity="0.38"/>
<rect x="433.98" y="1120.2" width="33.84" height="46.45" fill="#1f4e89" fill-opacity="0.16"/>
<rect x="433.98" y="1120.2" width="33.84" height="46.45" fill="url(#h_ffl_b_w)"/>
<rect x="433.98" y="1120.2" width="33.84" height="46.45" fill="none" stroke="#c3cfe0" stroke-width="1.3"/>
<rect x="433.98" y="1166.65" width="33.84" height="231.65" fill="#1f4e89" fill-opacity="0.38"/>
<rect x="472.98" y="1379.39" width="33.84" height="18.91" fill="#8fbc8f" fill-opacity="0.16"/>
<rect x="472.98" y="1379.39" width="33.84" height="18.91" fill="url(#h_ffl_g_w)"/>
<rect x="472.98" y="1379.39" width="33.84" height="18.91" fill="none" stroke="#dae9d9" stroke-width="1.3"/>
<rect x="527.98" y="1166.65" width="33.84" height="217.47" fill="#1f4e89" fill-opacity="0.16"/>
<rect x="527.98" y="1166.65" width="33.84" height="217.47" fill="url(#h_ffl_b_w)"/>
<rect x="527.98" y="1166.65" width="33.84" height="217.47" fill="none" stroke="#c3cfe0" stroke-width="1.3"/>
<rect x="527.98" y="1384.12" width="33.84" height="14.18" fill="#1f4e89" fill-opacity="0.38"/>
<rect x="566.98" y="1313.2" width="33.84" height="75.64" fill="#8fbc8f" fill-opacity="0.16"/>
<rect x="566.98" y="1313.2" width="33.84" height="75.64" fill="url(#h_ffl_g_w)"/>
<rect x="566.98" y="1313.2" width="33.84" height="75.64" fill="none" stroke="#dae9d9" stroke-width="1.3"/>
<rect x="566.98" y="1388.84" width="33.84" height="9.46" fill="#8fbc8f" fill-opacity="0.38"/>
<rect x="621.98" y="1157" width="33.84" height="203.48" fill="#1f4e89" fill-opacity="0.16"/>
<rect x="621.98" y="1157" width="33.84" height="203.48" fill="url(#h_ffl_b_w)"/>
<rect x="621.98" y="1157" width="33.84" height="203.48" fill="none" stroke="#c3cfe0" stroke-width="1.3"/>
<rect x="621.98" y="1360.48" width="33.84" height="37.82" fill="#1f4e89" fill-opacity="0.38"/>
<rect x="660.98" y="1379.39" width="33.84" height="18.91" fill="#8fbc8f" fill-opacity="0.16"/>
<rect x="660.98" y="1379.39" width="33.84" height="18.91" fill="url(#h_ffl_g_w)"/>
<rect x="660.98" y="1379.39" width="33.84" height="18.91" fill="none" stroke="#dae9d9" stroke-width="1.3"/>
<rect x="715.98" y="1393.57" width="33.84" height="4.73" fill="#1f4e89" fill-opacity="0.72"/>
<rect x="754.98" y="1374.66" width="33.84" height="14.18" fill="#8fbc8f" fill-opacity="0.31"/>
<rect x="754.98" y="1374.66" width="33.84" height="14.18" fill="url(#h_ffl_g)"/>
<rect x="754.98" y="1374.66" width="33.84" height="14.18" fill="none" stroke="#bcdabc" stroke-width="1.3"/>
<rect x="754.98" y="1388.84" width="33.84" height="9.46" fill="#8fbc8f" fill-opacity="0.72"/>
<rect x="809.98" y="1360.48" width="33.84" height="14.18" fill="#1f4e89" fill-opacity="0.31"/>
<rect x="809.98" y="1360.48" width="33.84" height="14.18" fill="url(#h_ffl_b)"/>
<rect x="809.98" y="1360.48" width="33.84" height="14.18" fill="none" stroke="#8da6c9" stroke-width="1.3"/>
<rect x="809.98" y="1374.66" width="33.84" height="23.64" fill="#1f4e89" fill-opacity="0.72"/>
<rect x="848.98" y="1384.12" width="33.84" height="14.18" fill="#8fbc8f" fill-opacity="0.31"/>
<rect x="848.98" y="1384.12" width="33.84" height="14.18" fill="url(#h_ffl_g)"/>
<rect x="848.98" y="1384.12" width="33.84" height="14.18" fill="none" stroke="#bcdabc" stroke-width="1.3"/>
<rect x="903.98" y="1180.83" width="33.84" height="137.1" fill="#1f4e89" fill-opacity="0.31"/>
<rect x="903.98" y="1180.83" width="33.84" height="137.1" fill="url(#h_ffl_b)"/>
<rect x="903.98" y="1180.83" width="33.84" height="137.1" fill="none" stroke="#8da6c9" stroke-width="1.3"/>
<rect x="903.98" y="1317.93" width="33.84" height="80.37" fill="#1f4e89" fill-opacity="0.72"/>
<rect x="942.98" y="1369.93" width="33.84" height="18.91" fill="#8fbc8f" fill-opacity="0.31"/>
<rect x="942.98" y="1369.93" width="33.84" height="18.91" fill="url(#h_ffl_g)"/>
<rect x="942.98" y="1369.93" width="33.84" height="18.91" fill="none" stroke="#bcdabc" stroke-width="1.3"/>
<rect x="942.98" y="1388.84" width="33.84" height="9.46" fill="#8fbc8f" fill-opacity="0.72"/>
<rect x="997.98" y="1369.93" width="33.84" height="18.91" fill="#1f4e89" fill-opacity="0.31"/>
<rect x="997.98" y="1369.93" width="33.84" height="18.91" fill="url(#h_ffl_b)"/>
<rect x="997.98" y="1369.93" width="33.84" height="18.91" fill="none" stroke="#8da6c9" stroke-width="1.3"/>
<rect x="997.98" y="1388.84" width="33.84" height="9.46" fill="#1f4e89" fill-opacity="0.72"/>
<rect x="1036.98" y="1369.93" width="33.84" height="28.37" fill="#8fbc8f" fill-opacity="0.31"/>
<rect x="1036.98" y="1369.93" width="33.84" height="28.37" fill="url(#h_ffl_g)"/>
<rect x="1036.98" y="1369.93" width="33.84" height="28.37" fill="none" stroke="#bcdabc" stroke-width="1.3"/>
<rect x="1091.98" y="1332.11" width="33.84" height="18.91" fill="#1f4e89" fill-opacity="0.31"/>
<rect x="1091.98" y="1332.11" width="33.84" height="18.91" fill="url(#h_ffl_b)"/>
<rect x="1091.98" y="1332.11" width="33.84" height="18.91" fill="none" stroke="#8da6c9" stroke-width="1.3"/>
<rect x="1091.98" y="1351.02" width="33.84" height="47.28" fill="#1f4e89" fill-opacity="0.72"/>
<rect x="1130.98" y="1303.75" width="33.84" height="80.37" fill="#8fbc8f" fill-opacity="0.31"/>
<rect x="1130.98" y="1303.75" width="33.84" height="80.37" fill="url(#h_ffl_g)"/>
<rect x="1130.98" y="1303.75" width="33.84" height="80.37" fill="none" stroke="#bcdabc" stroke-width="1.3"/>
<rect x="1130.98" y="1384.12" width="33.84" height="14.18" fill="#8fbc8f" fill-opacity="0.72"/>
<rect x="1185.98" y="1346.3" width="33.84" height="28.37" fill="#1f4e89" fill-opacity="0.31"/>
<rect x="1185.98" y="1346.3" width="33.84" height="28.37" fill="url(#h_ffl_b)"/>
<rect x="1185.98" y="1346.3" width="33.84" height="28.37" fill="none" stroke="#8da6c9" stroke-width="1.3"/>
<rect x="1185.98" y="1374.66" width="33.84" height="23.64" fill="#1f4e89" fill-opacity="0.72"/>
<rect x="1224.98" y="1369.93" width="33.84" height="28.37" fill="#8fbc8f" fill-opacity="0.31"/>
<rect x="1224.98" y="1369.93" width="33.84" height="28.37" fill="url(#h_ffl_g)"/>
<rect x="1224.98" y="1369.93" width="33.84" height="28.37" fill="none" stroke="#bcdabc" stroke-width="1.3"/>
<rect x="1279.98" y="1360.48" width="33.84" height="4.73" fill="#1f4e89" fill-opacity="0.31"/>
<rect x="1279.98" y="1360.48" width="33.84" height="4.73" fill="url(#h_ffl_b)"/>
<rect x="1279.98" y="1360.48" width="33.84" height="4.73" fill="none" stroke="#8da6c9" stroke-width="1.3"/>
<rect x="1279.98" y="1365.21" width="33.84" height="33.09" fill="#1f4e89" fill-opacity="0.72"/>
<rect x="1318.98" y="1379.39" width="33.84" height="18.91" fill="#8fbc8f" fill-opacity="0.31"/>
<rect x="1318.98" y="1379.39" width="33.84" height="18.91" fill="url(#h_ffl_g)"/>
<rect x="1318.98" y="1379.39" width="33.84" height="18.91" fill="none" stroke="#bcdabc" stroke-width="1.3"/>
<rect x="1412.98" y="1388.84" width="33.84" height="4.73" fill="#8fbc8f" fill-opacity="0.31"/>
<rect x="1412.98" y="1388.84" width="33.84" height="4.73" fill="url(#h_ffl_g)"/>
<rect x="1412.98" y="1388.84" width="33.84" height="4.73" fill="none" stroke="#bcdabc" stroke-width="1.3"/>
<rect x="1412.98" y="1393.57" width="33.84" height="4.73" fill="#8fbc8f" fill-opacity="0.72"/>
<rect x="1467.98" y="1374.66" width="33.84" height="23.64" fill="#1f4e89" fill-opacity="0.31"/>
<rect x="1467.98" y="1374.66" width="33.84" height="23.64" fill="url(#h_ffl_b)"/>
<rect x="1467.98" y="1374.66" width="33.84" height="23.64" fill="none" stroke="#8da6c9" stroke-width="1.3"/>
<rect x="1506.98" y="1351.02" width="33.84" height="37.82" fill="#8fbc8f" fill-opacity="0.31"/>
<rect x="1506.98" y="1351.02" width="33.84" height="37.82" fill="url(#h_ffl_g)"/>
<rect x="1506.98" y="1351.02" width="33.84" height="37.82" fill="none" stroke="#bcdabc" stroke-width="1.3"/>
<rect x="1506.98" y="1388.84" width="33.84" height="9.46" fill="#8fbc8f" fill-opacity="0.72"/>
<rect x="1561.98" y="1369.93" width="33.84" height="18.91" fill="#1f4e89" fill-opacity="0.31"/>
<rect x="1561.98" y="1369.93" width="33.84" height="18.91" fill="url(#h_ffl_b)"/>
<rect x="1561.98" y="1369.93" width="33.84" height="18.91" fill="none" stroke="#8da6c9" stroke-width="1.3"/>
<rect x="1561.98" y="1388.84" width="33.84" height="9.46" fill="#1f4e89" fill-opacity="0.72"/>
<rect x="1600.98" y="1355.75" width="33.84" height="33.09" fill="#8fbc8f" fill-opacity="0.31"/>
<rect x="1600.98" y="1355.75" width="33.84" height="33.09" fill="url(#h_ffl_g)"/>
<rect x="1600.98" y="1355.75" width="33.84" height="33.09" fill="none" stroke="#bcdabc" stroke-width="1.3"/>
<rect x="1600.98" y="1388.84" width="33.84" height="9.46" fill="#8fbc8f" fill-opacity="0.72"/>
<rect x="1655.98" y="1379.39" width="33.84" height="14.18" fill="#1f4e89" fill-opacity="0.31"/>
<rect x="1655.98" y="1379.39" width="33.84" height="14.18" fill="url(#h_ffl_b)"/>
<rect x="1655.98" y="1379.39" width="33.84" height="14.18" fill="none" stroke="#8da6c9" stroke-width="1.3"/>
<rect x="1655.98" y="1393.57" width="33.84" height="4.73" fill="#1f4e89" fill-opacity="0.72"/>
<rect x="1694.98" y="1360.48" width="33.84" height="37.82" fill="#8fbc8f" fill-opacity="0.31"/>
<rect x="1694.98" y="1360.48" width="33.84" height="37.82" fill="url(#h_ffl_g)"/>
<rect x="1694.98" y="1360.48" width="33.84" height="37.82" fill="none" stroke="#bcdabc" stroke-width="1.3"/>
<rect x="1749.98" y="1388.84" width="33.84" height="9.46" fill="#1f4e89" fill-opacity="0.72"/>
<rect x="1788.98" y="1388.84" width="33.84" height="4.73" fill="#8fbc8f" fill-opacity="0.31"/>
<rect x="1788.98" y="1388.84" width="33.84" height="4.73" fill="url(#h_ffl_g)"/>
<rect x="1788.98" y="1388.84" width="33.84" height="4.73" fill="none" stroke="#bcdabc" stroke-width="1.3"/>
<rect x="1788.98" y="1393.57" width="33.84" height="4.73" fill="#8fbc8f" fill-opacity="0.72"/>
<line x1="705" y1="1033" x2="705" y2="1398.3" stroke="#b0b0b0" stroke-width="2" stroke-dasharray="7.4 3.2" stroke-linecap="butt"/>
<line x1="1269" y1="1033" x2="1269" y2="1398.3" stroke="#b0b0b0" stroke-width="2" stroke-dasharray="7.4 3.2" stroke-linecap="butt"/>
<line x1="122" y1="1161.92" x2="1852" y2="1161.92" stroke="#787878" stroke-width="2" stroke-dasharray="7.6 3.4" stroke-dashoffset="1.9" stroke-linecap="butt"/>
<line x1="122" y1="1033" x2="122" y2="1399.2" stroke="#c8c8c8" stroke-width="1.8" stroke-linecap="butt"/>
<line x1="121.1" y1="1398.3" x2="1852" y2="1398.3" stroke="#c8c8c8" stroke-width="1.8" stroke-linecap="butt"/>
<text x="113.3" y="1406.3" font-size="22.93" text-anchor="end" textLength="14.14" lengthAdjust="spacingAndGlyphs" fill="#222222">0</text>
<text x="113.3" y="1288.11" font-size="22.93" text-anchor="end" textLength="28.27" lengthAdjust="spacingAndGlyphs" fill="#222222">25</text>
<text x="113.3" y="1169.92" font-size="22.93" text-anchor="end" textLength="28.27" lengthAdjust="spacingAndGlyphs" fill="#222222">50</text>
<text x="113.3" y="1127.24" font-size="22.93" text-anchor="end" textLength="42.41" lengthAdjust="spacingAndGlyphs" fill="#222222">250</text>
<text x="113.3" y="1084.58" font-size="22.93" text-anchor="end" textLength="42.41" lengthAdjust="spacingAndGlyphs" fill="#222222">450</text>
<text x="113.3" y="1041.92" font-size="22.93" text-anchor="end" textLength="42.41" lengthAdjust="spacingAndGlyphs" fill="#222222">650</text>
<text transform="translate(22.5 1218.5) rotate(-90)" x="0" y="0" font-size="22.61" font-weight="bold" text-anchor="middle" textLength="120.56" lengthAdjust="spacingAndGlyphs" fill="#222222">Op-Errors</text>
<rect x="1631.2" y="1036.3" width="211.5" height="68.3" fill="#f9fafc" stroke="#c9d3e1" stroke-width="1.9" fill-opacity="0.8"/>
<rect x="1639" y="1045.9" width="44.9" height="15.1" fill="#999999"/>
<rect x="1639" y="1077" width="44.9" height="15.1" fill="#d0d0d0"/>
<rect x="1639" y="1077" width="44.9" height="15.1" fill="url(#h_leg)"/>
<text x="1703.3" y="1060.7" font-size="22.93" text-anchor="start" textLength="59.11" lengthAdjust="spacingAndGlyphs" fill="#222222">Retry</text>
<text x="1703.3" y="1091.9" font-size="22.93" text-anchor="start" textLength="132.33" lengthAdjust="spacingAndGlyphs" fill="#222222">Final-Failure</text>
<line x1="188" y1="1445" x2="188" y2="1687.7" stroke="#e6e9ef" stroke-width="1.6" stroke-linecap="butt"/>
<line x1="376" y1="1445" x2="376" y2="1687.7" stroke="#e6e9ef" stroke-width="1.6" stroke-linecap="butt"/>
<line x1="564" y1="1445" x2="564" y2="1687.7" stroke="#e6e9ef" stroke-width="1.6" stroke-linecap="butt"/>
<line x1="752" y1="1445" x2="752" y2="1687.7" stroke="#e6e9ef" stroke-width="1.6" stroke-linecap="butt"/>
<line x1="940" y1="1445" x2="940" y2="1687.7" stroke="#e6e9ef" stroke-width="1.6" stroke-linecap="butt"/>
<line x1="1128" y1="1445" x2="1128" y2="1687.7" stroke="#e6e9ef" stroke-width="1.6" stroke-linecap="butt"/>
<line x1="1316" y1="1445" x2="1316" y2="1687.7" stroke="#e6e9ef" stroke-width="1.6" stroke-linecap="butt"/>
<line x1="1504" y1="1445" x2="1504" y2="1687.7" stroke="#e6e9ef" stroke-width="1.6" stroke-linecap="butt"/>
<line x1="1692" y1="1445" x2="1692" y2="1687.7" stroke="#e6e9ef" stroke-width="1.6" stroke-linecap="butt"/>
<line x1="1786" y1="1445" x2="1786" y2="1687.7" stroke="#e6e9ef" stroke-width="1.6" stroke-linecap="butt"/>
<line x1="123" y1="1687.7" x2="1852" y2="1687.7" stroke="#dce0e9" stroke-width="1.6" stroke-dasharray="1.6 2.4" stroke-linecap="butt"/>
<line x1="123" y1="1606.74" x2="1852" y2="1606.74" stroke="#dce0e9" stroke-width="1.6" stroke-dasharray="1.6 2.4" stroke-linecap="butt"/>
<line x1="123" y1="1445.02" x2="1852" y2="1445.02" stroke="#dce0e9" stroke-width="1.6" stroke-dasharray="1.6 2.4" stroke-linecap="butt"/>
<rect x="151.13" y="1684.87" width="34.74" height="2.83" fill="#1f4e89" fill-opacity="0.38"/>
<path d="M151.13,1687.7 V1684.87 H185.87 V1687.7" fill="none" stroke="#9db2cd" stroke-width="1.9"/>
<rect x="190.13" y="1454.25" width="34.74" height="233.45" fill="#8fbc8f" fill-opacity="0.38"/>
<path d="M190.13,1687.7 V1454.25 H224.87 V1687.7" fill="none" stroke="#cde0cc" stroke-width="1.9"/>
<rect x="245.13" y="1659.36" width="34.74" height="28.34" fill="#1f4e89" fill-opacity="0.38"/>
<path d="M245.13,1687.7 V1659.36 H279.87 V1687.7" fill="none" stroke="#9db2cd" stroke-width="1.9"/>
<rect x="284.13" y="1622.93" width="34.74" height="64.77" fill="#8fbc8f" fill-opacity="0.38"/>
<path d="M284.13,1687.7 V1622.93 H318.87 V1687.7" fill="none" stroke="#cde0cc" stroke-width="1.9"/>
<rect x="339.13" y="1549.26" width="34.74" height="138.44" fill="#1f4e89" fill-opacity="0.38"/>
<path d="M339.13,1687.7 V1549.26 H373.87 V1687.7" fill="none" stroke="#9db2cd" stroke-width="1.9"/>
<rect x="378.13" y="1677.18" width="34.74" height="10.52" fill="#8fbc8f" fill-opacity="0.38"/>
<path d="M378.13,1687.7 V1677.18 H412.87 V1687.7" fill="none" stroke="#cde0cc" stroke-width="1.9"/>
<rect x="433.13" y="1571.52" width="34.74" height="116.18" fill="#1f4e89" fill-opacity="0.38"/>
<path d="M433.13,1687.7 V1571.52 H467.87 V1687.7" fill="none" stroke="#9db2cd" stroke-width="1.9"/>
<rect x="472.13" y="1610.38" width="34.74" height="77.32" fill="#8fbc8f" fill-opacity="0.38"/>
<path d="M472.13,1687.7 V1610.38 H506.87 V1687.7" fill="none" stroke="#cde0cc" stroke-width="1.9"/>
<rect x="527.13" y="1634.27" width="34.74" height="53.43" fill="#1f4e89" fill-opacity="0.38"/>
<path d="M527.13,1687.7 V1634.27 H561.87 V1687.7" fill="none" stroke="#9db2cd" stroke-width="1.9"/>
<rect x="566.13" y="1590.55" width="34.74" height="97.15" fill="#8fbc8f" fill-opacity="0.38"/>
<path d="M566.13,1687.7 V1590.55 H600.87 V1687.7" fill="none" stroke="#cde0cc" stroke-width="1.9"/>
<rect x="621.13" y="1681.22" width="34.74" height="6.48" fill="#1f4e89" fill-opacity="0.38"/>
<path d="M621.13,1687.7 V1681.22 H655.87 V1687.7" fill="none" stroke="#9db2cd" stroke-width="1.9"/>
<rect x="660.13" y="1646.01" width="34.74" height="41.69" fill="#8fbc8f" fill-opacity="0.38"/>
<path d="M660.13,1687.7 V1646.01 H694.87 V1687.7" fill="none" stroke="#cde0cc" stroke-width="1.9"/>
<rect x="754.13" y="1686.49" width="34.74" height="1.21" fill="#8fbc8f" fill-opacity="0.72"/>
<path d="M754.13,1687.7 V1686.49 H788.87 V1687.7" fill="none" stroke="#96c394" stroke-width="1.9"/>
<rect x="809.13" y="1646.41" width="34.74" height="41.29" fill="#1f4e89" fill-opacity="0.72"/>
<path d="M809.13,1687.7 V1646.41 H843.87 V1687.7" fill="none" stroke="#345f96" stroke-width="1.9"/>
<rect x="848.13" y="1663.01" width="34.74" height="24.69" fill="#8fbc8f" fill-opacity="0.72"/>
<path d="M848.13,1687.7 V1663.01 H882.87 V1687.7" fill="none" stroke="#96c394" stroke-width="1.9"/>
<rect x="903.13" y="1668.67" width="34.74" height="19.03" fill="#1f4e89" fill-opacity="0.72"/>
<path d="M903.13,1687.7 V1668.67 H937.87 V1687.7" fill="none" stroke="#345f96" stroke-width="1.9"/>
<rect x="942.13" y="1672.72" width="34.74" height="14.98" fill="#8fbc8f" fill-opacity="0.72"/>
<path d="M942.13,1687.7 V1672.72 H976.87 V1687.7" fill="none" stroke="#96c394" stroke-width="1.9"/>
<rect x="997.13" y="1674.75" width="34.74" height="12.95" fill="#1f4e89" fill-opacity="0.72"/>
<path d="M997.13,1687.7 V1674.75 H1031.87 V1687.7" fill="none" stroke="#345f96" stroke-width="1.9"/>
<rect x="1036.13" y="1680.82" width="34.74" height="6.88" fill="#8fbc8f" fill-opacity="0.72"/>
<path d="M1036.13,1687.7 V1680.82 H1070.87 V1687.7" fill="none" stroke="#96c394" stroke-width="1.9"/>
<rect x="1091.13" y="1677.98" width="34.74" height="9.72" fill="#1f4e89" fill-opacity="0.72"/>
<path d="M1091.13,1687.7 V1677.98 H1125.87 V1687.7" fill="none" stroke="#345f96" stroke-width="1.9"/>
<rect x="1130.13" y="1674.75" width="34.74" height="12.95" fill="#8fbc8f" fill-opacity="0.72"/>
<path d="M1130.13,1687.7 V1674.75 H1164.87 V1687.7" fill="none" stroke="#96c394" stroke-width="1.9"/>
<rect x="1185.13" y="1613.62" width="34.74" height="74.08" fill="#1f4e89" fill-opacity="0.72"/>
<path d="M1185.13,1687.7 V1613.62 H1219.87 V1687.7" fill="none" stroke="#345f96" stroke-width="1.9"/>
<rect x="1224.13" y="1638.72" width="34.74" height="48.98" fill="#8fbc8f" fill-opacity="0.72"/>
<path d="M1224.13,1687.7 V1638.72 H1258.87 V1687.7" fill="none" stroke="#96c394" stroke-width="1.9"/>
<rect x="1279.13" y="1686.89" width="34.74" height="0.81" fill="#1f4e89" fill-opacity="0.72"/>
<path d="M1279.13,1687.7 V1686.89 H1313.87 V1687.7" fill="none" stroke="#345f96" stroke-width="1.9"/>
<rect x="1373.13" y="1629.81" width="34.74" height="57.89" fill="#1f4e89" fill-opacity="0.72"/>
<path d="M1373.13,1687.7 V1629.81 H1407.87 V1687.7" fill="none" stroke="#345f96" stroke-width="1.9"/>
<rect x="1412.13" y="1649.65" width="34.74" height="38.05" fill="#8fbc8f" fill-opacity="0.72"/>
<path d="M1412.13,1687.7 V1649.65 H1446.87 V1687.7" fill="none" stroke="#96c394" stroke-width="1.9"/>
<rect x="1467.13" y="1673.53" width="34.74" height="14.17" fill="#1f4e89" fill-opacity="0.72"/>
<path d="M1467.13,1687.7 V1673.53 H1501.87 V1687.7" fill="none" stroke="#345f96" stroke-width="1.9"/>
<rect x="1506.13" y="1667.46" width="34.74" height="20.24" fill="#8fbc8f" fill-opacity="0.72"/>
<path d="M1506.13,1687.7 V1667.46 H1540.87 V1687.7" fill="none" stroke="#96c394" stroke-width="1.9"/>
<rect x="1561.13" y="1594.6" width="34.74" height="93.1" fill="#1f4e89" fill-opacity="0.72"/>
<path d="M1561.13,1687.7 V1594.6 H1595.87 V1687.7" fill="none" stroke="#345f96" stroke-width="1.9"/>
<rect x="1600.13" y="1674.75" width="34.74" height="12.95" fill="#8fbc8f" fill-opacity="0.72"/>
<path d="M1600.13,1687.7 V1674.75 H1634.87 V1687.7" fill="none" stroke="#96c394" stroke-width="1.9"/>
<rect x="1655.13" y="1605.53" width="34.74" height="82.17" fill="#1f4e89" fill-opacity="0.72"/>
<path d="M1655.13,1687.7 V1605.53 H1689.87 V1687.7" fill="none" stroke="#345f96" stroke-width="1.9"/>
<rect x="1694.13" y="1542.78" width="34.74" height="144.92" fill="#8fbc8f" fill-opacity="0.72"/>
<path d="M1694.13,1687.7 V1542.78 H1728.87 V1687.7" fill="none" stroke="#96c394" stroke-width="1.9"/>
<rect x="1749.13" y="1649.65" width="34.74" height="38.05" fill="#1f4e89" fill-opacity="0.72"/>
<path d="M1749.13,1687.7 V1649.65 H1783.87 V1687.7" fill="none" stroke="#345f96" stroke-width="1.9"/>
<rect x="1788.13" y="1645.6" width="34.74" height="42.1" fill="#8fbc8f" fill-opacity="0.72"/>
<path d="M1788.13,1687.7 V1645.6 H1822.87 V1687.7" fill="none" stroke="#96c394" stroke-width="1.9"/>
<line x1="705" y1="1444" x2="705" y2="1687.7" stroke="#b0b0b0" stroke-width="2" stroke-dasharray="7.4 3.2" stroke-linecap="butt"/>
<line x1="1269" y1="1444" x2="1269" y2="1687.7" stroke="#b0b0b0" stroke-width="2" stroke-dasharray="7.4 3.2" stroke-linecap="butt"/>
<line x1="122" y1="1525.78" x2="1852" y2="1525.78" stroke="#787878" stroke-width="2" stroke-dasharray="7.6 3.4" stroke-dashoffset="1.9" stroke-linecap="butt"/>
<line x1="122" y1="1444" x2="122" y2="1688.6" stroke="#c8c8c8" stroke-width="1.8" stroke-linecap="butt"/>
<line x1="121.1" y1="1687.7" x2="1852" y2="1687.7" stroke="#c8c8c8" stroke-width="1.8" stroke-linecap="butt"/>
<text x="113.3" y="1695.7" font-size="22.93" text-anchor="end" textLength="14.14" lengthAdjust="spacingAndGlyphs" fill="#222222">0</text>
<text x="113.3" y="1614.74" font-size="22.93" text-anchor="end" textLength="42.41" lengthAdjust="spacingAndGlyphs" fill="#222222">200</text>
<text x="113.3" y="1533.78" font-size="22.93" text-anchor="end" textLength="42.41" lengthAdjust="spacingAndGlyphs" fill="#222222">400</text>
<text x="113.3" y="1453.02" font-size="22.93" text-anchor="end" textLength="48.21" lengthAdjust="spacingAndGlyphs" fill="#222222">1.1k</text>
<text transform="translate(22.5 1569.5) rotate(-90)" x="0" y="0" font-size="22.61" font-weight="bold" text-anchor="middle" textLength="127.17" lengthAdjust="spacingAndGlyphs" fill="#222222">Op-Delays</text>
<rect x="1617.5" y="1447.5" width="224.8" height="35.9" fill="#f9fafc" stroke="#c9d3e1" stroke-width="1.9" fill-opacity="0.8"/>
<rect x="1626.2" y="1456" width="43.7" height="15.1" fill="#999999"/>
<text x="1689.3" y="1471.1" font-size="22.93" text-anchor="start" textLength="146.58" lengthAdjust="spacingAndGlyphs" fill="#222222">Delay-Events</text>
<line x1="188" y1="1735" x2="188" y2="1977.7" stroke="#e6e9ef" stroke-width="1.6" stroke-linecap="butt"/>
<line x1="376" y1="1735" x2="376" y2="1977.7" stroke="#e6e9ef" stroke-width="1.6" stroke-linecap="butt"/>
<line x1="564" y1="1735" x2="564" y2="1977.7" stroke="#e6e9ef" stroke-width="1.6" stroke-linecap="butt"/>
<line x1="752" y1="1735" x2="752" y2="1977.7" stroke="#e6e9ef" stroke-width="1.6" stroke-linecap="butt"/>
<line x1="940" y1="1735" x2="940" y2="1977.7" stroke="#e6e9ef" stroke-width="1.6" stroke-linecap="butt"/>
<line x1="1128" y1="1735" x2="1128" y2="1977.7" stroke="#e6e9ef" stroke-width="1.6" stroke-linecap="butt"/>
<line x1="1316" y1="1735" x2="1316" y2="1977.7" stroke="#e6e9ef" stroke-width="1.6" stroke-linecap="butt"/>
<line x1="1504" y1="1735" x2="1504" y2="1977.7" stroke="#e6e9ef" stroke-width="1.6" stroke-linecap="butt"/>
<line x1="1692" y1="1735" x2="1692" y2="1977.7" stroke="#e6e9ef" stroke-width="1.6" stroke-linecap="butt"/>
<line x1="1786" y1="1735" x2="1786" y2="1977.7" stroke="#e6e9ef" stroke-width="1.6" stroke-linecap="butt"/>
<line x1="123" y1="1977.7" x2="1852" y2="1977.7" stroke="#dce0e9" stroke-width="1.6" stroke-dasharray="1.6 2.4" stroke-linecap="butt"/>
<line x1="123" y1="1884.2" x2="1852" y2="1884.2" stroke="#dce0e9" stroke-width="1.6" stroke-dasharray="1.6 2.4" stroke-linecap="butt"/>
<line x1="123" y1="1790.7" x2="1852" y2="1790.7" stroke="#dce0e9" stroke-width="1.6" stroke-dasharray="1.6 2.4" stroke-linecap="butt"/>
<rect x="151.98" y="1816.8" width="33.84" height="92.1" fill="#1f4e89" fill-opacity="0.17"/>
<rect x="151.98" y="1816.8" width="33.84" height="92.1" fill="url(#h_rxl_b_w)"/>
<rect x="151.98" y="1816.8" width="33.84" height="92.1" fill="none" stroke="#c5d2e3" stroke-width="1.3"/>
<rect x="151.98" y="1908.9" width="33.84" height="68.8" fill="#1f4e89" fill-opacity="0.41"/>
<rect x="190.98" y="1808.9" width="33.84" height="96.2" fill="#8fbc8f" fill-opacity="0.17"/>
<rect x="190.98" y="1808.9" width="33.84" height="96.2" fill="url(#h_rxl_g_w)"/>
<rect x="190.98" y="1808.9" width="33.84" height="96.2" fill="none" stroke="#dbeadb" stroke-width="1.3"/>
<rect x="190.98" y="1905.1" width="33.84" height="72.6" fill="#8fbc8f" fill-opacity="0.41"/>
<rect x="245.98" y="1801.8" width="33.84" height="101.9" fill="#1f4e89" fill-opacity="0.17"/>
<rect x="245.98" y="1801.8" width="33.84" height="101.9" fill="url(#h_rxl_b_w)"/>
<rect x="245.98" y="1801.8" width="33.84" height="101.9" fill="none" stroke="#c5d2e3" stroke-width="1.3"/>
<rect x="245.98" y="1903.7" width="33.84" height="74" fill="#1f4e89" fill-opacity="0.41"/>
<rect x="284.98" y="1815.8" width="33.84" height="92.2" fill="#8fbc8f" fill-opacity="0.17"/>
<rect x="284.98" y="1815.8" width="33.84" height="92.2" fill="url(#h_rxl_g_w)"/>
<rect x="284.98" y="1815.8" width="33.84" height="92.2" fill="none" stroke="#dbeadb" stroke-width="1.3"/>
<rect x="284.98" y="1908" width="33.84" height="69.7" fill="#8fbc8f" fill-opacity="0.41"/>
<rect x="339.98" y="1777.1" width="33.84" height="121.8" fill="#1f4e89" fill-opacity="0.17"/>
<rect x="339.98" y="1777.1" width="33.84" height="121.8" fill="url(#h_rxl_b_w)"/>
<rect x="339.98" y="1777.1" width="33.84" height="121.8" fill="none" stroke="#c5d2e3" stroke-width="1.3"/>
<rect x="339.98" y="1898.9" width="33.84" height="78.8" fill="#1f4e89" fill-opacity="0.41"/>
<rect x="378.98" y="1773.9" width="33.84" height="123.1" fill="#8fbc8f" fill-opacity="0.17"/>
<rect x="378.98" y="1773.9" width="33.84" height="123.1" fill="url(#h_rxl_g_w)"/>
<rect x="378.98" y="1773.9" width="33.84" height="123.1" fill="none" stroke="#dbeadb" stroke-width="1.3"/>
<rect x="378.98" y="1897" width="33.84" height="80.7" fill="#8fbc8f" fill-opacity="0.41"/>
<rect x="433.98" y="1756.9" width="33.84" height="136.2" fill="#1f4e89" fill-opacity="0.17"/>
<rect x="433.98" y="1756.9" width="33.84" height="136.2" fill="url(#h_rxl_b_w)"/>
<rect x="433.98" y="1756.9" width="33.84" height="136.2" fill="none" stroke="#c5d2e3" stroke-width="1.3"/>
<rect x="433.98" y="1893.1" width="33.84" height="84.6" fill="#1f4e89" fill-opacity="0.41"/>
<rect x="472.98" y="1771.7" width="33.84" height="128.1" fill="#8fbc8f" fill-opacity="0.17"/>
<rect x="472.98" y="1771.7" width="33.84" height="128.1" fill="url(#h_rxl_g_w)"/>
<rect x="472.98" y="1771.7" width="33.84" height="128.1" fill="none" stroke="#dbeadb" stroke-width="1.3"/>
<rect x="472.98" y="1899.8" width="33.84" height="77.9" fill="#8fbc8f" fill-opacity="0.41"/>
<rect x="527.98" y="1759.8" width="33.84" height="135.2" fill="#1f4e89" fill-opacity="0.17"/>
<rect x="527.98" y="1759.8" width="33.84" height="135.2" fill="url(#h_rxl_b_w)"/>
<rect x="527.98" y="1759.8" width="33.84" height="135.2" fill="none" stroke="#c5d2e3" stroke-width="1.3"/>
<rect x="527.98" y="1895" width="33.84" height="82.7" fill="#1f4e89" fill-opacity="0.41"/>
<rect x="566.98" y="1780" width="33.84" height="117.9" fill="#8fbc8f" fill-opacity="0.17"/>
<rect x="566.98" y="1780" width="33.84" height="117.9" fill="url(#h_rxl_g_w)"/>
<rect x="566.98" y="1780" width="33.84" height="117.9" fill="none" stroke="#dbeadb" stroke-width="1.3"/>
<rect x="566.98" y="1897.9" width="33.84" height="79.8" fill="#8fbc8f" fill-opacity="0.41"/>
<rect x="621.98" y="1798.8" width="33.84" height="108.1" fill="#1f4e89" fill-opacity="0.17"/>
<rect x="621.98" y="1798.8" width="33.84" height="108.1" fill="url(#h_rxl_b_w)"/>
<rect x="621.98" y="1798.8" width="33.84" height="108.1" fill="none" stroke="#c5d2e3" stroke-width="1.3"/>
<rect x="621.98" y="1906.9" width="33.84" height="70.8" fill="#1f4e89" fill-opacity="0.41"/>
<rect x="660.98" y="1805" width="33.84" height="100" fill="#8fbc8f" fill-opacity="0.17"/>
<rect x="660.98" y="1805" width="33.84" height="100" fill="url(#h_rxl_g_w)"/>
<rect x="660.98" y="1805" width="33.84" height="100" fill="none" stroke="#dbeadb" stroke-width="1.3"/>
<rect x="660.98" y="1905" width="33.84" height="72.7" fill="#8fbc8f" fill-opacity="0.41"/>
<rect x="715.98" y="1862.1" width="33.84" height="66" fill="#1f4e89" fill-opacity="0.35"/>
<rect x="715.98" y="1862.1" width="33.84" height="66" fill="url(#h_rxl_b)"/>
<rect x="715.98" y="1862.1" width="33.84" height="66" fill="none" stroke="#7d9bc6" stroke-width="1.3"/>
<rect x="715.98" y="1928.1" width="33.84" height="49.6" fill="#1f4e89" fill-opacity="0.9"/>
<rect x="754.98" y="1823.1" width="33.84" height="86.7" fill="#8fbc8f" fill-opacity="0.35"/>
<rect x="754.98" y="1823.1" width="33.84" height="86.7" fill="url(#h_rxl_g)"/>
<rect x="754.98" y="1823.1" width="33.84" height="86.7" fill="none" stroke="#b9d8b9" stroke-width="1.3"/>
<rect x="754.98" y="1909.8" width="33.84" height="67.9" fill="#8fbc8f" fill-opacity="0.9"/>
<rect x="809.98" y="1813.1" width="33.84" height="94.9" fill="#1f4e89" fill-opacity="0.35"/>
<rect x="809.98" y="1813.1" width="33.84" height="94.9" fill="url(#h_rxl_b)"/>
<rect x="809.98" y="1813.1" width="33.84" height="94.9" fill="none" stroke="#7d9bc6" stroke-width="1.3"/>
<rect x="809.98" y="1908" width="33.84" height="69.7" fill="#1f4e89" fill-opacity="0.9"/>
<rect x="848.98" y="1813.1" width="33.84" height="93.8" fill="#8fbc8f" fill-opacity="0.35"/>
<rect x="848.98" y="1813.1" width="33.84" height="93.8" fill="url(#h_rxl_g)"/>
<rect x="848.98" y="1813.1" width="33.84" height="93.8" fill="none" stroke="#b9d8b9" stroke-width="1.3"/>
<rect x="848.98" y="1906.9" width="33.84" height="70.8" fill="#8fbc8f" fill-opacity="0.9"/>
<rect x="903.98" y="1770.9" width="33.84" height="123.9" fill="#1f4e89" fill-opacity="0.35"/>
<rect x="903.98" y="1770.9" width="33.84" height="123.9" fill="url(#h_rxl_b)"/>
<rect x="903.98" y="1770.9" width="33.84" height="123.9" fill="none" stroke="#7d9bc6" stroke-width="1.3"/>
<rect x="903.98" y="1894.8" width="33.84" height="82.9" fill="#1f4e89" fill-opacity="0.9"/>
<rect x="942.98" y="1753.7" width="33.84" height="139.4" fill="#8fbc8f" fill-opacity="0.35"/>
<rect x="942.98" y="1753.7" width="33.84" height="139.4" fill="url(#h_rxl_g)"/>
<rect x="942.98" y="1753.7" width="33.84" height="139.4" fill="none" stroke="#b9d8b9" stroke-width="1.3"/>
<rect x="942.98" y="1893.1" width="33.84" height="84.6" fill="#8fbc8f" fill-opacity="0.9"/>
<rect x="997.98" y="1763" width="33.84" height="131" fill="#1f4e89" fill-opacity="0.35"/>
<rect x="997.98" y="1763" width="33.84" height="131" fill="url(#h_rxl_b)"/>
<rect x="997.98" y="1763" width="33.84" height="131" fill="none" stroke="#7d9bc6" stroke-width="1.3"/>
<rect x="997.98" y="1894" width="33.84" height="83.7" fill="#1f4e89" fill-opacity="0.9"/>
<rect x="1036.98" y="1772.9" width="33.84" height="125" fill="#8fbc8f" fill-opacity="0.35"/>
<rect x="1036.98" y="1772.9" width="33.84" height="125" fill="url(#h_rxl_g)"/>
<rect x="1036.98" y="1772.9" width="33.84" height="125" fill="none" stroke="#b9d8b9" stroke-width="1.3"/>
<rect x="1036.98" y="1897.9" width="33.84" height="79.8" fill="#8fbc8f" fill-opacity="0.9"/>
<rect x="1091.98" y="1763" width="33.84" height="132.9" fill="#1f4e89" fill-opacity="0.35"/>
<rect x="1091.98" y="1763" width="33.84" height="132.9" fill="url(#h_rxl_b)"/>
<rect x="1091.98" y="1763" width="33.84" height="132.9" fill="none" stroke="#7d9bc6" stroke-width="1.3"/>
<rect x="1091.98" y="1895.9" width="33.84" height="81.8" fill="#1f4e89" fill-opacity="0.9"/>
<rect x="1130.98" y="1773.1" width="33.84" height="123.9" fill="#8fbc8f" fill-opacity="0.35"/>
<rect x="1130.98" y="1773.1" width="33.84" height="123.9" fill="url(#h_rxl_g)"/>
<rect x="1130.98" y="1773.1" width="33.84" height="123.9" fill="none" stroke="#b9d8b9" stroke-width="1.3"/>
<rect x="1130.98" y="1897" width="33.84" height="80.7" fill="#8fbc8f" fill-opacity="0.9"/>
<rect x="1185.98" y="1765.8" width="33.84" height="138.3" fill="#1f4e89" fill-opacity="0.35"/>
<rect x="1185.98" y="1765.8" width="33.84" height="138.3" fill="url(#h_rxl_b)"/>
<rect x="1185.98" y="1765.8" width="33.84" height="138.3" fill="none" stroke="#7d9bc6" stroke-width="1.3"/>
<rect x="1185.98" y="1904.1" width="33.84" height="73.6" fill="#1f4e89" fill-opacity="0.9"/>
<rect x="1224.98" y="1800.3" width="33.84" height="105.5" fill="#8fbc8f" fill-opacity="0.35"/>
<rect x="1224.98" y="1800.3" width="33.84" height="105.5" fill="url(#h_rxl_g)"/>
<rect x="1224.98" y="1800.3" width="33.84" height="105.5" fill="none" stroke="#b9d8b9" stroke-width="1.3"/>
<rect x="1224.98" y="1905.8" width="33.84" height="71.9" fill="#8fbc8f" fill-opacity="0.9"/>
<rect x="1279.98" y="1817.8" width="33.84" height="91" fill="#1f4e89" fill-opacity="0.35"/>
<rect x="1279.98" y="1817.8" width="33.84" height="91" fill="url(#h_rxl_b)"/>
<rect x="1279.98" y="1817.8" width="33.84" height="91" fill="none" stroke="#7d9bc6" stroke-width="1.3"/>
<rect x="1279.98" y="1908.8" width="33.84" height="68.9" fill="#1f4e89" fill-opacity="0.9"/>
<rect x="1318.98" y="1818.6" width="33.84" height="91.8" fill="#8fbc8f" fill-opacity="0.35"/>
<rect x="1318.98" y="1818.6" width="33.84" height="91.8" fill="url(#h_rxl_g)"/>
<rect x="1318.98" y="1818.6" width="33.84" height="91.8" fill="none" stroke="#b9d8b9" stroke-width="1.3"/>
<rect x="1318.98" y="1910.4" width="33.84" height="67.3" fill="#8fbc8f" fill-opacity="0.9"/>
<rect x="1373.98" y="1814" width="33.84" height="92.9" fill="#1f4e89" fill-opacity="0.35"/>
<rect x="1373.98" y="1814" width="33.84" height="92.9" fill="url(#h_rxl_b)"/>
<rect x="1373.98" y="1814" width="33.84" height="92.9" fill="none" stroke="#7d9bc6" stroke-width="1.3"/>
<rect x="1373.98" y="1906.9" width="33.84" height="70.8" fill="#1f4e89" fill-opacity="0.9"/>
<rect x="1412.98" y="1799.7" width="33.84" height="103.2" fill="#8fbc8f" fill-opacity="0.35"/>
<rect x="1412.98" y="1799.7" width="33.84" height="103.2" fill="url(#h_rxl_g)"/>
<rect x="1412.98" y="1799.7" width="33.84" height="103.2" fill="none" stroke="#b9d8b9" stroke-width="1.3"/>
<rect x="1412.98" y="1902.9" width="33.84" height="74.8" fill="#8fbc8f" fill-opacity="0.9"/>
<rect x="1467.98" y="1745.7" width="33.84" height="151.2" fill="#1f4e89" fill-opacity="0.35"/>
<rect x="1467.98" y="1745.7" width="33.84" height="151.2" fill="url(#h_rxl_b)"/>
<rect x="1467.98" y="1745.7" width="33.84" height="151.2" fill="none" stroke="#7d9bc6" stroke-width="1.3"/>
<rect x="1467.98" y="1896.9" width="33.84" height="80.8" fill="#1f4e89" fill-opacity="0.9"/>
<rect x="1506.98" y="1765.7" width="33.84" height="128" fill="#8fbc8f" fill-opacity="0.35"/>
<rect x="1506.98" y="1765.7" width="33.84" height="128" fill="url(#h_rxl_g)"/>
<rect x="1506.98" y="1765.7" width="33.84" height="128" fill="none" stroke="#b9d8b9" stroke-width="1.3"/>
<rect x="1506.98" y="1893.7" width="33.84" height="84" fill="#8fbc8f" fill-opacity="0.9"/>
<rect x="1561.98" y="1790.8" width="33.84" height="112.1" fill="#1f4e89" fill-opacity="0.35"/>
<rect x="1561.98" y="1790.8" width="33.84" height="112.1" fill="url(#h_rxl_b)"/>
<rect x="1561.98" y="1790.8" width="33.84" height="112.1" fill="none" stroke="#7d9bc6" stroke-width="1.3"/>
<rect x="1561.98" y="1902.9" width="33.84" height="74.8" fill="#1f4e89" fill-opacity="0.9"/>
<rect x="1600.98" y="1755.7" width="33.84" height="138" fill="#8fbc8f" fill-opacity="0.35"/>
<rect x="1600.98" y="1755.7" width="33.84" height="138" fill="url(#h_rxl_g)"/>
<rect x="1600.98" y="1755.7" width="33.84" height="138" fill="none" stroke="#b9d8b9" stroke-width="1.3"/>
<rect x="1600.98" y="1893.7" width="33.84" height="84" fill="#8fbc8f" fill-opacity="0.9"/>
<rect x="1655.98" y="1778.4" width="33.84" height="119.1" fill="#1f4e89" fill-opacity="0.35"/>
<rect x="1655.98" y="1778.4" width="33.84" height="119.1" fill="url(#h_rxl_b)"/>
<rect x="1655.98" y="1778.4" width="33.84" height="119.1" fill="none" stroke="#7d9bc6" stroke-width="1.3"/>
<rect x="1655.98" y="1897.5" width="33.84" height="80.2" fill="#1f4e89" fill-opacity="0.9"/>
<rect x="1694.98" y="1784.4" width="33.84" height="113.1" fill="#8fbc8f" fill-opacity="0.35"/>
<rect x="1694.98" y="1784.4" width="33.84" height="113.1" fill="url(#h_rxl_g)"/>
<rect x="1694.98" y="1784.4" width="33.84" height="113.1" fill="none" stroke="#b9d8b9" stroke-width="1.3"/>
<rect x="1694.98" y="1897.5" width="33.84" height="80.2" fill="#8fbc8f" fill-opacity="0.9"/>
<rect x="1749.98" y="1797.5" width="33.84" height="105.4" fill="#1f4e89" fill-opacity="0.35"/>
<rect x="1749.98" y="1797.5" width="33.84" height="105.4" fill="url(#h_rxl_b)"/>
<rect x="1749.98" y="1797.5" width="33.84" height="105.4" fill="none" stroke="#7d9bc6" stroke-width="1.3"/>
<rect x="1749.98" y="1902.9" width="33.84" height="74.8" fill="#1f4e89" fill-opacity="0.9"/>
<rect x="1788.98" y="1800.6" width="33.84" height="104.4" fill="#8fbc8f" fill-opacity="0.35"/>
<rect x="1788.98" y="1800.6" width="33.84" height="104.4" fill="url(#h_rxl_g)"/>
<rect x="1788.98" y="1800.6" width="33.84" height="104.4" fill="none" stroke="#b9d8b9" stroke-width="1.3"/>
<rect x="1788.98" y="1905" width="33.84" height="72.7" fill="#8fbc8f" fill-opacity="0.9"/>
<line x1="705" y1="1734" x2="705" y2="1977.7" stroke="#b0b0b0" stroke-width="2" stroke-dasharray="7.4 3.2" stroke-linecap="butt"/>
<line x1="1269" y1="1734" x2="1269" y2="1977.7" stroke="#b0b0b0" stroke-width="2" stroke-dasharray="7.4 3.2" stroke-linecap="butt"/>
<line x1="122" y1="1734" x2="122" y2="1978.6" stroke="#c8c8c8" stroke-width="1.8" stroke-linecap="butt"/>
<line x1="121.1" y1="1977.7" x2="1852" y2="1977.7" stroke="#c8c8c8" stroke-width="1.8" stroke-linecap="butt"/>
<text x="113.3" y="1985.7" font-size="22.93" text-anchor="end" textLength="14.14" lengthAdjust="spacingAndGlyphs" fill="#222222">0</text>
<text x="113.3" y="1892.2" font-size="22.93" text-anchor="end" textLength="41.14" lengthAdjust="spacingAndGlyphs" fill="#222222">20k</text>
<text x="113.3" y="1798.7" font-size="22.93" text-anchor="end" textLength="41.14" lengthAdjust="spacingAndGlyphs" fill="#222222">40k</text>
<text transform="translate(24 1860.3) rotate(-90)" x="0" y="0" font-size="22.61" font-weight="bold" text-anchor="middle" textLength="136.64" lengthAdjust="spacingAndGlyphs" fill="#222222">RF-Activity</text>
<rect x="1650.9" y="1735.9" width="192.3" height="68.9" fill="#f9fafc" stroke="#c9d3e1" stroke-width="1.9" fill-opacity="0.8"/>
<rect x="1658.9" y="1745.3" width="45.1" height="15.4" fill="#808080"/>
<rect x="1658.9" y="1776.6" width="45.1" height="15.4" fill="#c8c8c8"/>
<rect x="1658.9" y="1776.6" width="45.1" height="15.4" fill="url(#h_leg2)"/>
<text x="1722.3" y="1760.8" font-size="22.93" text-anchor="start" textLength="110.94" lengthAdjust="spacingAndGlyphs" fill="#222222">TX-Events</text>
<text x="1722.3" y="1791.7" font-size="22.93" text-anchor="start" textLength="112.8" lengthAdjust="spacingAndGlyphs" fill="#222222">RX-Events</text>
<text x="188" y="2001.7" font-size="22.93" text-anchor="middle" textLength="64.03" lengthAdjust="spacingAndGlyphs" fill="#222222">00:00</text>
<text x="376" y="2001.7" font-size="22.93" text-anchor="middle" textLength="64.03" lengthAdjust="spacingAndGlyphs" fill="#222222">08:00</text>
<text x="564" y="2001.7" font-size="22.93" text-anchor="middle" textLength="64.03" lengthAdjust="spacingAndGlyphs" fill="#222222">16:00</text>
<text x="752" y="2001.7" font-size="22.93" text-anchor="middle" textLength="64.03" lengthAdjust="spacingAndGlyphs" fill="#222222">00:00</text>
<text x="940" y="2001.7" font-size="22.93" text-anchor="middle" textLength="64.03" lengthAdjust="spacingAndGlyphs" fill="#222222">08:00</text>
<text x="1128" y="2001.7" font-size="22.93" text-anchor="middle" textLength="64.03" lengthAdjust="spacingAndGlyphs" fill="#222222">16:00</text>
<text x="1316" y="2001.7" font-size="22.93" text-anchor="middle" textLength="64.03" lengthAdjust="spacingAndGlyphs" fill="#222222">00:00</text>
<text x="1504" y="2001.7" font-size="22.93" text-anchor="middle" textLength="64.03" lengthAdjust="spacingAndGlyphs" fill="#222222">08:00</text>
<text x="1692" y="2001.7" font-size="22.93" text-anchor="middle" textLength="64.03" lengthAdjust="spacingAndGlyphs" fill="#222222">16:00</text>
<text x="1786" y="2001.7" font-size="22.93" text-anchor="middle" textLength="64.03" lengthAdjust="spacingAndGlyphs" fill="#222222">20:00</text>
<text x="423.7" y="2036.8" font-size="22.61" font-weight="bold" text-anchor="middle" textLength="115.99" lengthAdjust="spacingAndGlyphs" fill="#222222">Warm-Up</text>
<text x="987" y="2036.8" font-size="22.61" font-weight="bold" text-anchor="middle" textLength="70.44" lengthAdjust="spacingAndGlyphs" fill="#222222">Day 1</text>
<text x="1551" y="2036.8" font-size="22.61" font-weight="bold" text-anchor="middle" textLength="70.44" lengthAdjust="spacingAndGlyphs" fill="#222222">Day 2</text>
<line x1="2473.7" y1="14" x2="2473.7" y2="985" stroke="#e6e9ef" stroke-width="1.6" stroke-linecap="butt"/>
<line x1="2402.6" y1="14" x2="2402.6" y2="985" stroke="#e6e9ef" stroke-width="1.6" stroke-linecap="butt"/>
<line x1="2331.5" y1="14" x2="2331.5" y2="985" stroke="#e6e9ef" stroke-width="1.6" stroke-linecap="butt"/>
<line x1="2260.4" y1="14" x2="2260.4" y2="985" stroke="#e6e9ef" stroke-width="1.6" stroke-linecap="butt"/>
<line x1="2189.3" y1="14" x2="2189.3" y2="985" stroke="#e6e9ef" stroke-width="1.6" stroke-linecap="butt"/>
<line x1="2118.2" y1="14" x2="2118.2" y2="985" stroke="#e6e9ef" stroke-width="1.6" stroke-linecap="butt"/>
<line x1="2047.1" y1="14" x2="2047.1" y2="985" stroke="#e6e9ef" stroke-width="1.6" stroke-linecap="butt"/>
<line x1="1976" y1="14" x2="1976" y2="985" stroke="#e6e9ef" stroke-width="1.6" stroke-linecap="butt"/>
<line x1="1904.9" y1="14" x2="1904.9" y2="985" stroke="#e6e9ef" stroke-width="1.6" stroke-linecap="butt"/>
<line x1="1897" y1="984.74" x2="2543.8" y2="984.74" stroke="#dce0e9" stroke-width="1.6" stroke-dasharray="1.6 2.4" stroke-linecap="butt"/>
<line x1="1897" y1="915.43" x2="2543.8" y2="915.43" stroke="#dce0e9" stroke-width="1.6" stroke-dasharray="1.6 2.4" stroke-linecap="butt"/>
<line x1="1897" y1="846.12" x2="2543.8" y2="846.12" stroke="#dce0e9" stroke-width="1.6" stroke-dasharray="1.6 2.4" stroke-linecap="butt"/>
<line x1="1897" y1="776.81" x2="2543.8" y2="776.81" stroke="#dce0e9" stroke-width="1.6" stroke-dasharray="1.6 2.4" stroke-linecap="butt"/>
<line x1="1897" y1="707.5" x2="2543.8" y2="707.5" stroke="#dce0e9" stroke-width="1.6" stroke-dasharray="1.6 2.4" stroke-linecap="butt"/>
<line x1="1897" y1="638.19" x2="2543.8" y2="638.19" stroke="#dce0e9" stroke-width="1.6" stroke-dasharray="1.6 2.4" stroke-linecap="butt"/>
<line x1="1897" y1="568.88" x2="2543.8" y2="568.88" stroke="#dce0e9" stroke-width="1.6" stroke-dasharray="1.6 2.4" stroke-linecap="butt"/>
<line x1="1897" y1="499.57" x2="2543.8" y2="499.57" stroke="#dce0e9" stroke-width="1.6" stroke-dasharray="1.6 2.4" stroke-linecap="butt"/>
<line x1="1897" y1="430.26" x2="2543.8" y2="430.26" stroke="#dce0e9" stroke-width="1.6" stroke-dasharray="1.6 2.4" stroke-linecap="butt"/>
<line x1="1897" y1="360.95" x2="2543.8" y2="360.95" stroke="#dce0e9" stroke-width="1.6" stroke-dasharray="1.6 2.4" stroke-linecap="butt"/>
<line x1="1897" y1="291.64" x2="2543.8" y2="291.64" stroke="#dce0e9" stroke-width="1.6" stroke-dasharray="1.6 2.4" stroke-linecap="butt"/>
<line x1="1897" y1="222.33" x2="2543.8" y2="222.33" stroke="#dce0e9" stroke-width="1.6" stroke-dasharray="1.6 2.4" stroke-linecap="butt"/>
<line x1="1897" y1="153.02" x2="2543.8" y2="153.02" stroke="#dce0e9" stroke-width="1.6" stroke-dasharray="1.6 2.4" stroke-linecap="butt"/>
<line x1="1897" y1="83.71" x2="2543.8" y2="83.71" stroke="#dce0e9" stroke-width="1.6" stroke-dasharray="1.6 2.4" stroke-linecap="butt"/>
<line x1="1897" y1="14.4" x2="2543.8" y2="14.4" stroke="#dce0e9" stroke-width="1.6" stroke-dasharray="1.6 2.4" stroke-linecap="butt"/>
<rect x="2463.3" y="23.3" width="81.5" height="24.8" fill="#8fbc8f"/>
<rect x="2526" y="51.4" width="18.8" height="24.8" fill="#1f4e89"/>
<rect x="2505.2" y="92.61" width="39.6" height="24.8" fill="#8fbc8f"/>
<rect x="2524" y="120.71" width="20.8" height="24.8" fill="#1f4e89"/>
<rect x="2520.2" y="161.92" width="24.6" height="24.8" fill="#8fbc8f"/>
<rect x="2511" y="190.02" width="33.8" height="24.8" fill="#1f4e89"/>
<rect x="2526" y="231.23" width="18.8" height="24.8" fill="#8fbc8f"/>
<rect x="2506.9" y="259.33" width="37.9" height="24.8" fill="#1f4e89"/>
<rect x="2524" y="300.54" width="20.8" height="24.8" fill="#8fbc8f"/>
<rect x="2509" y="328.64" width="35.8" height="24.8" fill="#1f4e89"/>
<rect x="2516.1" y="369.85" width="28.7" height="24.8" fill="#8fbc8f"/>
<rect x="2515.1" y="397.95" width="29.7" height="24.8" fill="#1f4e89"/>
<rect x="2483.1" y="439.16" width="61.7" height="24.8" fill="#8fbc8f"/>
<rect x="2514.1" y="467.26" width="30.7" height="24.8" fill="#1f4e89"/>
<rect x="2283.1" y="508.47" width="261.7" height="24.8" fill="#8fbc8f"/>
<rect x="2505.2" y="536.57" width="39.6" height="24.8" fill="#1f4e89"/>
<rect x="1965.2" y="577.78" width="579.6" height="24.8" fill="#8fbc8f"/>
<rect x="2457.2" y="605.88" width="87.6" height="24.8" fill="#1f4e89"/>
<rect x="1946.1" y="647.09" width="598.7" height="24.8" fill="#8fbc8f"/>
<rect x="2151.9" y="675.19" width="392.9" height="24.8" fill="#1f4e89"/>
<rect x="2245.9" y="716.4" width="298.9" height="24.8" fill="#8fbc8f"/>
<rect x="1928" y="744.5" width="616.8" height="24.8" fill="#1f4e89"/>
<rect x="2517.1" y="785.71" width="27.7" height="24.8" fill="#8fbc8f"/>
<rect x="2014.9" y="813.81" width="529.9" height="24.8" fill="#1f4e89"/>
<rect x="2407.1" y="883.12" width="137.7" height="24.8" fill="#1f4e89"/>
<rect x="2538.9" y="952.43" width="5.9" height="24.8" fill="#1f4e89"/>
<line x1="2544.8" y1="13" x2="2544.8" y2="985.9" stroke="#c8c8c8" stroke-width="1.8" stroke-linecap="butt"/>
<line x1="1896.5" y1="985" x2="2545.7" y2="985" stroke="#c8c8c8" stroke-width="1.8" stroke-linecap="butt"/>
<text x="2553.4" y="991.64" font-size="18.35" text-anchor="start" textLength="22.62" lengthAdjust="spacingAndGlyphs" fill="#222222">16</text>
<text x="2553.4" y="922.33" font-size="18.35" text-anchor="start" textLength="22.62" lengthAdjust="spacingAndGlyphs" fill="#222222">17</text>
<text x="2553.4" y="853.02" font-size="18.35" text-anchor="start" textLength="22.62" lengthAdjust="spacingAndGlyphs" fill="#222222">18</text>
<text x="2553.4" y="783.71" font-size="18.35" text-anchor="start" textLength="22.62" lengthAdjust="spacingAndGlyphs" fill="#222222">19</text>
<text x="2553.4" y="714.4" font-size="18.35" text-anchor="start" textLength="22.62" lengthAdjust="spacingAndGlyphs" fill="#222222">20</text>
<text x="2553.4" y="645.09" font-size="18.35" text-anchor="start" textLength="22.62" lengthAdjust="spacingAndGlyphs" fill="#222222">21</text>
<text x="2553.4" y="575.78" font-size="18.35" text-anchor="start" textLength="22.62" lengthAdjust="spacingAndGlyphs" fill="#222222">22</text>
<text x="2553.4" y="506.47" font-size="18.35" text-anchor="start" textLength="22.62" lengthAdjust="spacingAndGlyphs" fill="#222222">23</text>
<text x="2553.4" y="437.16" font-size="18.35" text-anchor="start" textLength="22.62" lengthAdjust="spacingAndGlyphs" fill="#222222">24</text>
<text x="2553.4" y="367.85" font-size="18.35" text-anchor="start" textLength="22.62" lengthAdjust="spacingAndGlyphs" fill="#222222">25</text>
<text x="2553.4" y="298.54" font-size="18.35" text-anchor="start" textLength="22.62" lengthAdjust="spacingAndGlyphs" fill="#222222">26</text>
<text x="2553.4" y="229.23" font-size="18.35" text-anchor="start" textLength="22.62" lengthAdjust="spacingAndGlyphs" fill="#222222">27</text>
<text x="2553.4" y="159.92" font-size="18.35" text-anchor="start" textLength="22.62" lengthAdjust="spacingAndGlyphs" fill="#222222">28</text>
<text x="2553.4" y="90.61" font-size="18.35" text-anchor="start" textLength="22.62" lengthAdjust="spacingAndGlyphs" fill="#222222">29</text>
<text x="2553.4" y="21.3" font-size="18.35" text-anchor="start" textLength="22.62" lengthAdjust="spacingAndGlyphs" fill="#222222">30</text>
<text x="2544.8" y="1009.2" font-size="22.93" text-anchor="middle" textLength="14.14" lengthAdjust="spacingAndGlyphs" fill="#222222">0</text>
<text x="2473.7" y="1009.2" font-size="22.93" text-anchor="middle" textLength="27" lengthAdjust="spacingAndGlyphs" fill="#222222">5k</text>
<text x="2402.6" y="1009.2" font-size="22.93" text-anchor="middle" textLength="41.14" lengthAdjust="spacingAndGlyphs" fill="#222222">10k</text>
<text x="2331.5" y="1009.2" font-size="22.93" text-anchor="middle" textLength="41.14" lengthAdjust="spacingAndGlyphs" fill="#222222">15k</text>
<text x="2260.4" y="1009.2" font-size="22.93" text-anchor="middle" textLength="41.14" lengthAdjust="spacingAndGlyphs" fill="#222222">20k</text>
<text x="2189.3" y="1009.2" font-size="22.93" text-anchor="middle" textLength="41.14" lengthAdjust="spacingAndGlyphs" fill="#222222">25k</text>
<text x="2118.2" y="1009.2" font-size="22.93" text-anchor="middle" textLength="41.14" lengthAdjust="spacingAndGlyphs" fill="#222222">30k</text>
<text x="2047.1" y="1009.2" font-size="22.93" text-anchor="middle" textLength="41.14" lengthAdjust="spacingAndGlyphs" fill="#222222">35k</text>
<text x="1976" y="1009.2" font-size="22.93" text-anchor="middle" textLength="41.14" lengthAdjust="spacingAndGlyphs" fill="#222222">40k</text>
<text x="1904.9" y="1009.2" font-size="22.93" text-anchor="middle" textLength="41.14" lengthAdjust="spacingAndGlyphs" fill="#222222">45k</text>
<text transform="translate(2612 500.6) rotate(-90)" x="0" y="0" font-size="22.61" font-weight="bold" text-anchor="middle" textLength="162.74" lengthAdjust="spacingAndGlyphs" fill="#222222">Latency (ms)</text>
<line x1="2370.6" y1="1034.5" x2="2370.6" y2="1977.7" stroke="#e6e9ef" stroke-width="1.6" stroke-linecap="butt"/>
<line x1="2196.9" y1="1034.5" x2="2196.9" y2="1977.7" stroke="#e6e9ef" stroke-width="1.6" stroke-linecap="butt"/>
<line x1="2144.1" y1="1034.5" x2="2144.1" y2="1977.7" stroke="#e6e9ef" stroke-width="1.6" stroke-linecap="butt"/>
<line x1="2091.9" y1="1034.5" x2="2091.9" y2="1977.7" stroke="#e6e9ef" stroke-width="1.6" stroke-linecap="butt"/>
<line x1="2039.5" y1="1034.5" x2="2039.5" y2="1977.7" stroke="#e6e9ef" stroke-width="1.6" stroke-linecap="butt"/>
<line x1="1986.8" y1="1034.5" x2="1986.8" y2="1977.7" stroke="#e6e9ef" stroke-width="1.6" stroke-linecap="butt"/>
<line x1="1898.7" y1="1034.5" x2="1898.7" y2="1977.7" stroke="#e6e9ef" stroke-width="1.6" stroke-linecap="butt"/>
<line x1="1897" y1="1034.3" x2="2543.8" y2="1034.3" stroke="#dce0e9" stroke-width="1.6" stroke-dasharray="1.6 2.4" stroke-linecap="butt"/>
<line x1="1897" y1="1083.95" x2="2543.8" y2="1083.95" stroke="#dce0e9" stroke-width="1.6" stroke-dasharray="1.6 2.4" stroke-linecap="butt"/>
<line x1="1897" y1="1133.6" x2="2543.8" y2="1133.6" stroke="#dce0e9" stroke-width="1.6" stroke-dasharray="1.6 2.4" stroke-linecap="butt"/>
<line x1="1897" y1="1183.25" x2="2543.8" y2="1183.25" stroke="#dce0e9" stroke-width="1.6" stroke-dasharray="1.6 2.4" stroke-linecap="butt"/>
<line x1="1897" y1="1232.9" x2="2543.8" y2="1232.9" stroke="#dce0e9" stroke-width="1.6" stroke-dasharray="1.6 2.4" stroke-linecap="butt"/>
<line x1="1897" y1="1282.55" x2="2543.8" y2="1282.55" stroke="#dce0e9" stroke-width="1.6" stroke-dasharray="1.6 2.4" stroke-linecap="butt"/>
<line x1="1897" y1="1332.2" x2="2543.8" y2="1332.2" stroke="#dce0e9" stroke-width="1.6" stroke-dasharray="1.6 2.4" stroke-linecap="butt"/>
<line x1="1897" y1="1381.85" x2="2543.8" y2="1381.85" stroke="#dce0e9" stroke-width="1.6" stroke-dasharray="1.6 2.4" stroke-linecap="butt"/>
<line x1="1897" y1="1431.5" x2="2543.8" y2="1431.5" stroke="#dce0e9" stroke-width="1.6" stroke-dasharray="1.6 2.4" stroke-linecap="butt"/>
<line x1="1897" y1="1481.15" x2="2543.8" y2="1481.15" stroke="#dce0e9" stroke-width="1.6" stroke-dasharray="1.6 2.4" stroke-linecap="butt"/>
<line x1="1897" y1="1530.8" x2="2543.8" y2="1530.8" stroke="#dce0e9" stroke-width="1.6" stroke-dasharray="1.6 2.4" stroke-linecap="butt"/>
<line x1="1897" y1="1580.45" x2="2543.8" y2="1580.45" stroke="#dce0e9" stroke-width="1.6" stroke-dasharray="1.6 2.4" stroke-linecap="butt"/>
<line x1="1897" y1="1630.1" x2="2543.8" y2="1630.1" stroke="#dce0e9" stroke-width="1.6" stroke-dasharray="1.6 2.4" stroke-linecap="butt"/>
<line x1="1897" y1="1679.75" x2="2543.8" y2="1679.75" stroke="#dce0e9" stroke-width="1.6" stroke-dasharray="1.6 2.4" stroke-linecap="butt"/>
<line x1="1897" y1="1729.4" x2="2543.8" y2="1729.4" stroke="#dce0e9" stroke-width="1.6" stroke-dasharray="1.6 2.4" stroke-linecap="butt"/>
<line x1="1897" y1="1779.05" x2="2543.8" y2="1779.05" stroke="#dce0e9" stroke-width="1.6" stroke-dasharray="1.6 2.4" stroke-linecap="butt"/>
<line x1="1897" y1="1828.7" x2="2543.8" y2="1828.7" stroke="#dce0e9" stroke-width="1.6" stroke-dasharray="1.6 2.4" stroke-linecap="butt"/>
<line x1="1897" y1="1878.35" x2="2543.8" y2="1878.35" stroke="#dce0e9" stroke-width="1.6" stroke-dasharray="1.6 2.4" stroke-linecap="butt"/>
<line x1="1897" y1="1928" x2="2543.8" y2="1928" stroke="#dce0e9" stroke-width="1.6" stroke-dasharray="1.6 2.4" stroke-linecap="butt"/>
<rect x="1923.6" y="1040.4" width="621.2" height="17.6" fill="#8fbc8f"/>
<rect x="1935.2" y="1060.8" width="609.6" height="17.6" fill="#1f4e89"/>
<rect x="2195.2" y="1090.05" width="349.6" height="17.6" fill="#8fbc8f"/>
<rect x="2245.2" y="1110.45" width="299.6" height="17.6" fill="#1f4e89"/>
<rect x="2456.8" y="1139.7" width="88" height="17.6" fill="#8fbc8f"/>
<rect x="2441.2" y="1160.1" width="103.6" height="17.6" fill="#1f4e89"/>
<rect x="2526" y="1189.35" width="18.8" height="17.6" fill="#8fbc8f"/>
<rect x="2515.8" y="1209.75" width="29" height="17.6" fill="#1f4e89"/>
<rect x="2529.1" y="1239" width="15.7" height="17.6" fill="#8fbc8f"/>
<rect x="2521.9" y="1259.4" width="22.9" height="17.6" fill="#1f4e89"/>
<rect x="2527" y="1288.65" width="17.8" height="17.6" fill="#8fbc8f"/>
<rect x="2523" y="1309.05" width="21.8" height="17.6" fill="#1f4e89"/>
<rect x="2530.8" y="1338.3" width="14" height="17.6" fill="#8fbc8f"/>
<rect x="2529.8" y="1358.7" width="15" height="17.6" fill="#1f4e89"/>
<rect x="2526.3" y="1387.95" width="18.5" height="17.6" fill="#8fbc8f"/>
<rect x="2529.1" y="1408.35" width="15.7" height="17.6" fill="#1f4e89"/>
<rect x="2530.1" y="1437.6" width="14.7" height="17.6" fill="#8fbc8f"/>
<rect x="2527.4" y="1458" width="17.4" height="17.6" fill="#1f4e89"/>
<rect x="2530.1" y="1487.25" width="14.7" height="17.6" fill="#8fbc8f"/>
<rect x="2517.1" y="1507.65" width="27.7" height="17.6" fill="#1f4e89"/>
<rect x="2523.9" y="1536.9" width="20.9" height="17.6" fill="#8fbc8f"/>
<rect x="2522.3" y="1557.3" width="22.5" height="17.6" fill="#1f4e89"/>
<rect x="2531.1" y="1586.55" width="13.7" height="17.6" fill="#8fbc8f"/>
<rect x="2528" y="1606.95" width="16.8" height="17.6" fill="#1f4e89"/>
<rect x="2523.3" y="1636.2" width="21.5" height="17.6" fill="#8fbc8f"/>
<rect x="2523.9" y="1656.6" width="20.9" height="17.6" fill="#1f4e89"/>
<rect x="2519.2" y="1685.85" width="25.6" height="17.6" fill="#8fbc8f"/>
<rect x="2512" y="1706.25" width="32.8" height="17.6" fill="#1f4e89"/>
<rect x="2495" y="1735.5" width="49.8" height="17.6" fill="#8fbc8f"/>
<rect x="2491.9" y="1755.9" width="52.9" height="17.6" fill="#1f4e89"/>
<rect x="2359" y="1785.15" width="185.8" height="17.6" fill="#8fbc8f"/>
<rect x="2353.9" y="1805.55" width="190.9" height="17.6" fill="#1f4e89"/>
<rect x="2098.1" y="1834.8" width="446.7" height="17.6" fill="#8fbc8f"/>
<rect x="2099.1" y="1855.2" width="445.7" height="17.6" fill="#1f4e89"/>
<rect x="1957" y="1884.45" width="587.8" height="17.6" fill="#8fbc8f"/>
<rect x="1952.9" y="1904.85" width="591.9" height="17.6" fill="#1f4e89"/>
<rect x="1903.2" y="1934.1" width="641.6" height="17.6" fill="#8fbc8f"/>
<rect x="1919.2" y="1954.5" width="625.6" height="17.6" fill="#1f4e89"/>
<line x1="1986.8" y1="1033.5" x2="1986.8" y2="1977.7" stroke="#606060" stroke-width="2.1" stroke-dasharray="8.2 3.55" stroke-linecap="butt" stroke-opacity="0.9"/>
<line x1="2196.9" y1="1033.5" x2="2196.9" y2="1977.7" stroke="#707070" stroke-width="1.8" stroke-dasharray="1.8 3.0" stroke-linecap="butt" stroke-opacity="0.9"/>
<line x1="2544.8" y1="1033.5" x2="2544.8" y2="1978.6" stroke="#c8c8c8" stroke-width="1.8" stroke-linecap="butt"/>
<line x1="1896.5" y1="1977.7" x2="2545.7" y2="1977.7" stroke="#c8c8c8" stroke-width="1.8" stroke-linecap="butt"/>
<text x="2553.4" y="1041.4" font-size="18.35" text-anchor="start" textLength="33.94" lengthAdjust="spacingAndGlyphs" fill="#222222">505</text>
<text x="2553.4" y="1091.05" font-size="18.35" text-anchor="start" textLength="33.94" lengthAdjust="spacingAndGlyphs" fill="#222222">480</text>
<text x="2553.4" y="1190.35" font-size="18.35" text-anchor="start" textLength="33.94" lengthAdjust="spacingAndGlyphs" fill="#222222">430</text>
<text x="2553.4" y="1289.65" font-size="18.35" text-anchor="start" textLength="33.94" lengthAdjust="spacingAndGlyphs" fill="#222222">380</text>
<text x="2553.4" y="1388.95" font-size="18.35" text-anchor="start" textLength="33.94" lengthAdjust="spacingAndGlyphs" fill="#222222">330</text>
<text x="2553.4" y="1488.25" font-size="18.35" text-anchor="start" textLength="33.94" lengthAdjust="spacingAndGlyphs" fill="#222222">280</text>
<text x="2553.4" y="1587.55" font-size="18.35" text-anchor="start" textLength="33.94" lengthAdjust="spacingAndGlyphs" fill="#222222">230</text>
<text x="2553.4" y="1686.85" font-size="18.35" text-anchor="start" textLength="33.94" lengthAdjust="spacingAndGlyphs" fill="#222222">180</text>
<text x="2553.4" y="1786.15" font-size="18.35" text-anchor="start" textLength="33.94" lengthAdjust="spacingAndGlyphs" fill="#222222">130</text>
<text x="2553.4" y="1885.45" font-size="18.35" text-anchor="start" textLength="22.62" lengthAdjust="spacingAndGlyphs" fill="#222222">80</text>
<text x="2553.4" y="1984.75" font-size="18.35" text-anchor="start" textLength="22.62" lengthAdjust="spacingAndGlyphs" fill="#222222">30</text>
<line x1="2545.6" y1="1133.6" x2="2552" y2="1133.6" stroke="#222222" stroke-width="1.4" stroke-linecap="butt"/>
<line x1="2545.6" y1="1232.9" x2="2552" y2="1232.9" stroke="#222222" stroke-width="1.4" stroke-linecap="butt"/>
<line x1="2545.6" y1="1332.2" x2="2552" y2="1332.2" stroke="#222222" stroke-width="1.4" stroke-linecap="butt"/>
<line x1="2545.6" y1="1431.5" x2="2552" y2="1431.5" stroke="#222222" stroke-width="1.4" stroke-linecap="butt"/>
<line x1="2545.6" y1="1530.8" x2="2552" y2="1530.8" stroke="#222222" stroke-width="1.4" stroke-linecap="butt"/>
<line x1="2545.6" y1="1630.1" x2="2552" y2="1630.1" stroke="#222222" stroke-width="1.4" stroke-linecap="butt"/>
<line x1="2545.6" y1="1729.4" x2="2552" y2="1729.4" stroke="#222222" stroke-width="1.4" stroke-linecap="butt"/>
<line x1="2545.6" y1="1828.7" x2="2552" y2="1828.7" stroke="#222222" stroke-width="1.4" stroke-linecap="butt"/>
<line x1="2545.6" y1="1928" x2="2552" y2="1928" stroke="#222222" stroke-width="1.4" stroke-linecap="butt"/>
<text x="1898.7" y="2001.7" font-size="22.93" text-anchor="middle" textLength="41.14" lengthAdjust="spacingAndGlyphs" fill="#222222">21k</text>
<text x="1986.8" y="2001.7" font-size="22.93" text-anchor="middle" textLength="27" lengthAdjust="spacingAndGlyphs" fill="#222222">5k</text>
<text x="2039.5" y="2001.7" font-size="22.93" text-anchor="middle" textLength="27" lengthAdjust="spacingAndGlyphs" fill="#222222">4k</text>
<text x="2091.9" y="2001.7" font-size="22.93" text-anchor="middle" textLength="27" lengthAdjust="spacingAndGlyphs" fill="#222222">3k</text>
<text x="2144.1" y="2001.7" font-size="22.93" text-anchor="middle" textLength="27" lengthAdjust="spacingAndGlyphs" fill="#222222">2k</text>
<text x="2196.9" y="2001.7" font-size="22.93" text-anchor="middle" textLength="27" lengthAdjust="spacingAndGlyphs" fill="#222222">1k</text>
<text x="2370.6" y="2001.7" font-size="22.93" text-anchor="middle" textLength="42.41" lengthAdjust="spacingAndGlyphs" fill="#222222">500</text>
<text x="2544.8" y="2001.7" font-size="22.93" text-anchor="middle" textLength="14.14" lengthAdjust="spacingAndGlyphs" fill="#222222">0</text>
<text x="2221" y="2034.6" font-size="22.61" font-weight="bold" text-anchor="middle" textLength="138.37" lengthAdjust="spacingAndGlyphs" fill="#222222">Operations</text>
<text transform="translate(2612 1508) rotate(-90)" x="0" y="0" font-size="22.61" font-weight="bold" text-anchor="middle" textLength="162.74" lengthAdjust="spacingAndGlyphs" fill="#222222">Latency (ms)</text></svg>
</body></html>
